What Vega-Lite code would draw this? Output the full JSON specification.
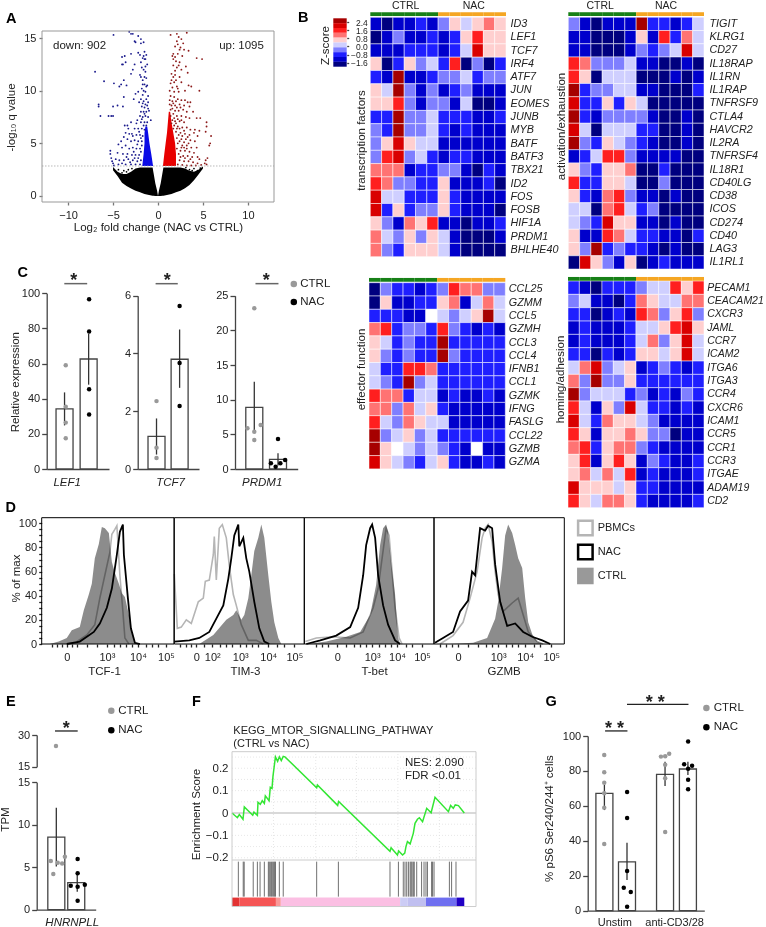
{"$schema":"https://vega.github.io/schema/vega-lite/v6.json","width":766,"height":927,"padding":0,"autosize":{"type":"none"},"background":"white","data":{"values":[{}]},
"config":{"font":"Liberation Sans","view":{"stroke":null},"axis":{"grid":false,"labelFontSize":11,"labelColor":"#222","titleFontSize":11.5,"titleFontWeight":"normal","titleColor":"#222","domainColor":"#444","tickColor":"#444","domainWidth":1.3,"tickWidth":1.3,"labelOverlap":false,"labelFlush":false,"titleBaseline":"middle","titleAlign":"center","titleAnchor":null},"text":{"fontSize":11.5,"color":"#222","align":"left","baseline":"middle"}},
"resolve":{"scale":{"x":"independent","y":"independent","color":"independent"},"axis":{"x":"independent","y":"independent"}},
"datasets":{
"h1":[{"g":"ID3","s":1,"z":-1.4},{"g":"ID3","s":2,"z":-1.8},{"g":"ID3","s":3,"z":-1.4},{"g":"ID3","s":4,"z":-1.4},{"g":"ID3","s":5,"z":-1},{"g":"ID3","s":6,"z":-1.4},{"g":"ID3","s":7,"z":-0.6},{"g":"ID3","s":8,"z":0.4},{"g":"ID3","s":9,"z":-0.2},{"g":"ID3","s":10,"z":0.4},{"g":"ID3","s":11,"z":1.2},{"g":"ID3","s":12,"z":0.4},
{"g":"LEF1","s":1,"z":-1.8},{"g":"LEF1","s":2,"z":-1.4},{"g":"LEF1","s":3,"z":-0.6},{"g":"LEF1","s":4,"z":-1.4},{"g":"LEF1","s":5,"z":-1.4},{"g":"LEF1","s":6,"z":-1},{"g":"LEF1","s":7,"z":-1.4},{"g":"LEF1","s":8,"z":-1},{"g":"LEF1","s":9,"z":0.4},{"g":"LEF1","s":10,"z":1.8},{"g":"LEF1","s":11,"z":0.4},{"g":"LEF1","s":12,"z":0.4},
{"g":"TCF7","s":1,"z":-1.4},{"g":"TCF7","s":2,"z":-1.4},{"g":"TCF7","s":3,"z":-1.4},{"g":"TCF7","s":4,"z":-1},{"g":"TCF7","s":5,"z":-1},{"g":"TCF7","s":6,"z":-1},{"g":"TCF7","s":7,"z":-1.4},{"g":"TCF7","s":8,"z":-1},{"g":"TCF7","s":9,"z":-0.2},{"g":"TCF7","s":10,"z":2.2},{"g":"TCF7","s":11,"z":0.4},{"g":"TCF7","s":12,"z":0.4},
{"g":"IRF4","s":1,"z":0.4},{"g":"IRF4","s":2,"z":-1.8},{"g":"IRF4","s":3,"z":-1},{"g":"IRF4","s":4,"z":0.4},{"g":"IRF4","s":5,"z":-0.6},{"g":"IRF4","s":6,"z":-0.2},{"g":"IRF4","s":7,"z":-1},{"g":"IRF4","s":8,"z":1.8},{"g":"IRF4","s":9,"z":-1.8},{"g":"IRF4","s":10,"z":-0.6},{"g":"IRF4","s":11,"z":-1.8},{"g":"IRF4","s":12,"z":-1},
{"g":"ATF7","s":1,"z":-1},{"g":"ATF7","s":2,"z":-1.4},{"g":"ATF7","s":3,"z":2.6},{"g":"ATF7","s":4,"z":-1.4},{"g":"ATF7","s":5,"z":-1.4},{"g":"ATF7","s":6,"z":-1},{"g":"ATF7","s":7,"z":-0.6},{"g":"ATF7","s":8,"z":-0.6},{"g":"ATF7","s":9,"z":-0.2},{"g":"ATF7","s":10,"z":-1},{"g":"ATF7","s":11,"z":-0.6},{"g":"ATF7","s":12,"z":-0.6},
{"g":"JUN","s":1,"z":0.4},{"g":"JUN","s":2,"z":-0.2},{"g":"JUN","s":3,"z":2.6},{"g":"JUN","s":4,"z":-0.6},{"g":"JUN","s":5,"z":-1.4},{"g":"JUN","s":6,"z":-0.6},{"g":"JUN","s":7,"z":-1.4},{"g":"JUN","s":8,"z":-1},{"g":"JUN","s":9,"z":-0.6},{"g":"JUN","s":10,"z":-1.4},{"g":"JUN","s":11,"z":-1.4},{"g":"JUN","s":12,"z":-1.4},
{"g":"EOMES","s":1,"z":0.4},{"g":"EOMES","s":2,"z":0.4},{"g":"EOMES","s":3,"z":1.8},{"g":"EOMES","s":4,"z":-0.6},{"g":"EOMES","s":5,"z":-1.4},{"g":"EOMES","s":6,"z":-0.6},{"g":"EOMES","s":7,"z":-0.6},{"g":"EOMES","s":8,"z":-1.4},{"g":"EOMES","s":9,"z":-0.2},{"g":"EOMES","s":10,"z":-1.8},{"g":"EOMES","s":11,"z":-1.8},{"g":"EOMES","s":12,"z":-1.4},
{"g":"JUNB","s":1,"z":-1},{"g":"JUNB","s":2,"z":-1},{"g":"JUNB","s":3,"z":2.6},{"g":"JUNB","s":4,"z":-0.6},{"g":"JUNB","s":5,"z":-0.6},{"g":"JUNB","s":6,"z":-0.2},{"g":"JUNB","s":7,"z":-1},{"g":"JUNB","s":8,"z":-1},{"g":"JUNB","s":9,"z":-1},{"g":"JUNB","s":10,"z":-1.4},{"g":"JUNB","s":11,"z":-1.4},{"g":"JUNB","s":12,"z":-1},
{"g":"MYB","s":1,"z":-0.6},{"g":"MYB","s":2,"z":-1},{"g":"MYB","s":3,"z":2.6},{"g":"MYB","s":4,"z":-0.6},{"g":"MYB","s":5,"z":-0.6},{"g":"MYB","s":6,"z":-0.2},{"g":"MYB","s":7,"z":-1},{"g":"MYB","s":8,"z":-1.4},{"g":"MYB","s":9,"z":-1},{"g":"MYB","s":10,"z":-1.4},{"g":"MYB","s":11,"z":-1.4},{"g":"MYB","s":12,"z":-1.4},
{"g":"BATF","s":1,"z":-0.6},{"g":"BATF","s":2,"z":0.4},{"g":"BATF","s":3,"z":2.2},{"g":"BATF","s":4,"z":0.4},{"g":"BATF","s":5,"z":-0.2},{"g":"BATF","s":6,"z":-0.2},{"g":"BATF","s":7,"z":-1.4},{"g":"BATF","s":8,"z":-1.4},{"g":"BATF","s":9,"z":-1.4},{"g":"BATF","s":10,"z":-1.4},{"g":"BATF","s":11,"z":-1.4},{"g":"BATF","s":12,"z":-1.4},
{"g":"BATF3","s":1,"z":-0.6},{"g":"BATF3","s":2,"z":1.8},{"g":"BATF3","s":3,"z":2.2},{"g":"BATF3","s":4,"z":-0.6},{"g":"BATF3","s":5,"z":-0.2},{"g":"BATF3","s":6,"z":-1},{"g":"BATF3","s":7,"z":-1.4},{"g":"BATF3","s":8,"z":-1},{"g":"BATF3","s":9,"z":-1},{"g":"BATF3","s":10,"z":-1.4},{"g":"BATF3","s":11,"z":-1.4},{"g":"BATF3","s":12,"z":-1.4},
{"g":"TBX21","s":1,"z":1.2},{"g":"TBX21","s":2,"z":1.2},{"g":"TBX21","s":3,"z":1.2},{"g":"TBX21","s":4,"z":-1.4},{"g":"TBX21","s":5,"z":-1},{"g":"TBX21","s":6,"z":-1},{"g":"TBX21","s":7,"z":-0.6},{"g":"TBX21","s":8,"z":-0.6},{"g":"TBX21","s":9,"z":-1.4},{"g":"TBX21","s":10,"z":-1.8},{"g":"TBX21","s":11,"z":-1},{"g":"TBX21","s":12,"z":-1.4},
{"g":"ID2","s":1,"z":1.8},{"g":"ID2","s":2,"z":1.2},{"g":"ID2","s":3,"z":-0.6},{"g":"ID2","s":4,"z":-0.6},{"g":"ID2","s":5,"z":-1},{"g":"ID2","s":6,"z":-1},{"g":"ID2","s":7,"z":0.4},{"g":"ID2","s":8,"z":-1.4},{"g":"ID2","s":9,"z":-1.4},{"g":"ID2","s":10,"z":-1.4},{"g":"ID2","s":11,"z":-1},{"g":"ID2","s":12,"z":-1.8},
{"g":"FOS","s":1,"z":2.2},{"g":"FOS","s":2,"z":-0.2},{"g":"FOS","s":3,"z":-0.2},{"g":"FOS","s":4,"z":-1},{"g":"FOS","s":5,"z":-1},{"g":"FOS","s":6,"z":-1},{"g":"FOS","s":7,"z":0.4},{"g":"FOS","s":8,"z":-1},{"g":"FOS","s":9,"z":-1.4},{"g":"FOS","s":10,"z":-1.4},{"g":"FOS","s":11,"z":-1.4},{"g":"FOS","s":12,"z":-1.4},
{"g":"FOSB","s":1,"z":2.2},{"g":"FOSB","s":2,"z":-1},{"g":"FOSB","s":3,"z":0.4},{"g":"FOSB","s":4,"z":-1},{"g":"FOSB","s":5,"z":-0.6},{"g":"FOSB","s":6,"z":-0.6},{"g":"FOSB","s":7,"z":0.4},{"g":"FOSB","s":8,"z":-1},{"g":"FOSB","s":9,"z":-1.4},{"g":"FOSB","s":10,"z":-1.4},{"g":"FOSB","s":11,"z":-1.4},{"g":"FOSB","s":12,"z":-1.8},
{"g":"HIF1A","s":1,"z":0.4},{"g":"HIF1A","s":2,"z":-0.6},{"g":"HIF1A","s":3,"z":-1.4},{"g":"HIF1A","s":4,"z":1.2},{"g":"HIF1A","s":5,"z":0.4},{"g":"HIF1A","s":6,"z":1.8},{"g":"HIF1A","s":7,"z":-1.4},{"g":"HIF1A","s":8,"z":-1.4},{"g":"HIF1A","s":9,"z":-1.8},{"g":"HIF1A","s":10,"z":-1.4},{"g":"HIF1A","s":11,"z":-1.4},{"g":"HIF1A","s":12,"z":-1},
{"g":"PRDM1","s":1,"z":1.2},{"g":"PRDM1","s":2,"z":-0.2},{"g":"PRDM1","s":3,"z":-0.6},{"g":"PRDM1","s":4,"z":0.4},{"g":"PRDM1","s":5,"z":-0.6},{"g":"PRDM1","s":6,"z":0.4},{"g":"PRDM1","s":7,"z":-0.2},{"g":"PRDM1","s":8,"z":-1.4},{"g":"PRDM1","s":9,"z":-1.8},{"g":"PRDM1","s":10,"z":-1.8},{"g":"PRDM1","s":11,"z":-1.8},{"g":"PRDM1","s":12,"z":-1.4},
{"g":"BHLHE40","s":1,"z":1.2},{"g":"BHLHE40","s":2,"z":-0.6},{"g":"BHLHE40","s":3,"z":-1},{"g":"BHLHE40","s":4,"z":0.4},{"g":"BHLHE40","s":5,"z":0.4},{"g":"BHLHE40","s":6,"z":0.4},{"g":"BHLHE40","s":7,"z":-0.2},{"g":"BHLHE40","s":8,"z":-1.4},{"g":"BHLHE40","s":9,"z":-1.8},{"g":"BHLHE40","s":10,"z":-1.8},{"g":"BHLHE40","s":11,"z":-1.8},{"g":"BHLHE40","s":12,"z":-1.8}],
"h2":[{"g":"TIGIT","s":1,"z":-0.6},{"g":"TIGIT","s":2,"z":-1.4},{"g":"TIGIT","s":3,"z":-1.8},{"g":"TIGIT","s":4,"z":-1.4},{"g":"TIGIT","s":5,"z":-1.4},{"g":"TIGIT","s":6,"z":-1.4},{"g":"TIGIT","s":7,"z":2.6},{"g":"TIGIT","s":8,"z":-1},{"g":"TIGIT","s":9,"z":-1},{"g":"TIGIT","s":10,"z":-1.4},{"g":"TIGIT","s":11,"z":-1},{"g":"TIGIT","s":12,"z":-0.2},
{"g":"KLRG1","s":1,"z":-1.4},{"g":"KLRG1","s":2,"z":-1.4},{"g":"KLRG1","s":3,"z":-1.8},{"g":"KLRG1","s":4,"z":-1.8},{"g":"KLRG1","s":5,"z":-1.8},{"g":"KLRG1","s":6,"z":-1.4},{"g":"KLRG1","s":7,"z":0.4},{"g":"KLRG1","s":8,"z":-1.4},{"g":"KLRG1","s":9,"z":1.8},{"g":"KLRG1","s":10,"z":-1},{"g":"KLRG1","s":11,"z":1.2},{"g":"KLRG1","s":12,"z":-0.2},
{"g":"CD27","s":1,"z":-1.4},{"g":"CD27","s":2,"z":-1.4},{"g":"CD27","s":3,"z":-1.8},{"g":"CD27","s":4,"z":-1.8},{"g":"CD27","s":5,"z":-1.8},{"g":"CD27","s":6,"z":-1.4},{"g":"CD27","s":7,"z":-0.6},{"g":"CD27","s":8,"z":-1},{"g":"CD27","s":9,"z":-0.6},{"g":"CD27","s":10,"z":-0.2},{"g":"CD27","s":11,"z":2.2},{"g":"CD27","s":12,"z":-0.2},
{"g":"IL18RAP","s":1,"z":1.8},{"g":"IL18RAP","s":2,"z":1.2},{"g":"IL18RAP","s":3,"z":-0.6},{"g":"IL18RAP","s":4,"z":-0.6},{"g":"IL18RAP","s":5,"z":-0.6},{"g":"IL18RAP","s":6,"z":-0.2},{"g":"IL18RAP","s":7,"z":-1.4},{"g":"IL18RAP","s":8,"z":-1.4},{"g":"IL18RAP","s":9,"z":-1.8},{"g":"IL18RAP","s":10,"z":-1.8},{"g":"IL18RAP","s":11,"z":-1.4},{"g":"IL18RAP","s":12,"z":-1.8},
{"g":"IL1RN","s":1,"z":1.8},{"g":"IL1RN","s":2,"z":0.4},{"g":"IL1RN","s":3,"z":-1.8},{"g":"IL1RN","s":4,"z":-0.2},{"g":"IL1RN","s":5,"z":-0.2},{"g":"IL1RN","s":6,"z":-0.2},{"g":"IL1RN","s":7,"z":-1.8},{"g":"IL1RN","s":8,"z":-1.8},{"g":"IL1RN","s":9,"z":-1.8},{"g":"IL1RN","s":10,"z":-1.4},{"g":"IL1RN","s":11,"z":-1.8},{"g":"IL1RN","s":12,"z":-1.4},
{"g":"IL1RAP","s":1,"z":2.6},{"g":"IL1RAP","s":2,"z":-1},{"g":"IL1RAP","s":3,"z":-0.6},{"g":"IL1RAP","s":4,"z":-0.6},{"g":"IL1RAP","s":5,"z":-0.2},{"g":"IL1RAP","s":6,"z":-0.2},{"g":"IL1RAP","s":7,"z":-1.4},{"g":"IL1RAP","s":8,"z":-1.4},{"g":"IL1RAP","s":9,"z":-1.8},{"g":"IL1RAP","s":10,"z":-1.8},{"g":"IL1RAP","s":11,"z":-1.8},{"g":"IL1RAP","s":12,"z":-1},
{"g":"TNFRSF9","s":1,"z":2.2},{"g":"TNFRSF9","s":2,"z":-1},{"g":"TNFRSF9","s":3,"z":-1},{"g":"TNFRSF9","s":4,"z":0.4},{"g":"TNFRSF9","s":5,"z":-1},{"g":"TNFRSF9","s":6,"z":0.4},{"g":"TNFRSF9","s":7,"z":-0.2},{"g":"TNFRSF9","s":8,"z":-1.8},{"g":"TNFRSF9","s":9,"z":-1.8},{"g":"TNFRSF9","s":10,"z":-1.8},{"g":"TNFRSF9","s":11,"z":-1.8},{"g":"TNFRSF9","s":12,"z":-1.8},
{"g":"CTLA4","s":1,"z":2.6},{"g":"CTLA4","s":2,"z":-1},{"g":"CTLA4","s":3,"z":-1.4},{"g":"CTLA4","s":4,"z":-0.6},{"g":"CTLA4","s":5,"z":-0.6},{"g":"CTLA4","s":6,"z":-0.6},{"g":"CTLA4","s":7,"z":-0.6},{"g":"CTLA4","s":8,"z":-1.4},{"g":"CTLA4","s":9,"z":-1.8},{"g":"CTLA4","s":10,"z":-1.8},{"g":"CTLA4","s":11,"z":-1.4},{"g":"CTLA4","s":12,"z":-1.8},
{"g":"HAVCR2","s":1,"z":2.2},{"g":"HAVCR2","s":2,"z":-0.2},{"g":"HAVCR2","s":3,"z":-1.8},{"g":"HAVCR2","s":4,"z":-0.2},{"g":"HAVCR2","s":5,"z":-0.2},{"g":"HAVCR2","s":6,"z":-0.2},{"g":"HAVCR2","s":7,"z":-1},{"g":"HAVCR2","s":8,"z":-1},{"g":"HAVCR2","s":9,"z":-1.8},{"g":"HAVCR2","s":10,"z":-1.8},{"g":"HAVCR2","s":11,"z":-1.4},{"g":"HAVCR2","s":12,"z":-1.8},
{"g":"IL2RA","s":1,"z":2.6},{"g":"IL2RA","s":2,"z":-0.6},{"g":"IL2RA","s":3,"z":-1},{"g":"IL2RA","s":4,"z":0.4},{"g":"IL2RA","s":5,"z":-0.2},{"g":"IL2RA","s":6,"z":-0.6},{"g":"IL2RA","s":7,"z":-1},{"g":"IL2RA","s":8,"z":-1.4},{"g":"IL2RA","s":9,"z":-1.8},{"g":"IL2RA","s":10,"z":-1.8},{"g":"IL2RA","s":11,"z":-1.4},{"g":"IL2RA","s":12,"z":-1.8},
{"g":"TNFRSF4","s":1,"z":-1.4},{"g":"TNFRSF4","s":2,"z":-1},{"g":"TNFRSF4","s":3,"z":-0.2},{"g":"TNFRSF4","s":4,"z":1.8},{"g":"TNFRSF4","s":5,"z":1.8},{"g":"TNFRSF4","s":6,"z":-0.6},{"g":"TNFRSF4","s":7,"z":-1.4},{"g":"TNFRSF4","s":8,"z":-1.4},{"g":"TNFRSF4","s":9,"z":-1.4},{"g":"TNFRSF4","s":10,"z":-1.4},{"g":"TNFRSF4","s":11,"z":-1.8},{"g":"TNFRSF4","s":12,"z":-1.8},
{"g":"IL18R1","s":1,"z":0.4},{"g":"IL18R1","s":2,"z":-0.6},{"g":"IL18R1","s":3,"z":-1},{"g":"IL18R1","s":4,"z":0.4},{"g":"IL18R1","s":5,"z":0.4},{"g":"IL18R1","s":6,"z":1.2},{"g":"IL18R1","s":7,"z":-1.8},{"g":"IL18R1","s":8,"z":-1.8},{"g":"IL18R1","s":9,"z":-1},{"g":"IL18R1","s":10,"z":-1.8},{"g":"IL18R1","s":11,"z":-1.8},{"g":"IL18R1","s":12,"z":-1.8},
{"g":"CD40LG","s":1,"z":1.8},{"g":"CD40LG","s":2,"z":-1},{"g":"CD40LG","s":3,"z":-1},{"g":"CD40LG","s":4,"z":0.4},{"g":"CD40LG","s":5,"z":0.4},{"g":"CD40LG","s":6,"z":-0.2},{"g":"CD40LG","s":7,"z":-1.8},{"g":"CD40LG","s":8,"z":-1.8},{"g":"CD40LG","s":9,"z":-0.6},{"g":"CD40LG","s":10,"z":-1.8},{"g":"CD40LG","s":11,"z":-1.8},{"g":"CD40LG","s":12,"z":-1.8},
{"g":"CD38","s":1,"z":0.4},{"g":"CD38","s":2,"z":-1},{"g":"CD38","s":3,"z":-1.4},{"g":"CD38","s":4,"z":1.2},{"g":"CD38","s":5,"z":1.8},{"g":"CD38","s":6,"z":-0.6},{"g":"CD38","s":7,"z":-1.4},{"g":"CD38","s":8,"z":-1.4},{"g":"CD38","s":9,"z":-1.8},{"g":"CD38","s":10,"z":-1.4},{"g":"CD38","s":11,"z":-1.8},{"g":"CD38","s":12,"z":-1.8},
{"g":"ICOS","s":1,"z":-0.2},{"g":"ICOS","s":2,"z":-0.2},{"g":"ICOS","s":3,"z":-1.8},{"g":"ICOS","s":4,"z":1.2},{"g":"ICOS","s":5,"z":1.8},{"g":"ICOS","s":6,"z":-0.2},{"g":"ICOS","s":7,"z":-1},{"g":"ICOS","s":8,"z":-0.6},{"g":"ICOS","s":9,"z":-1.8},{"g":"ICOS","s":10,"z":-1.8},{"g":"ICOS","s":11,"z":-1.8},{"g":"ICOS","s":12,"z":-1.8},
{"g":"CD274","s":1,"z":-0.2},{"g":"CD274","s":2,"z":-0.6},{"g":"CD274","s":3,"z":-1},{"g":"CD274","s":4,"z":2.2},{"g":"CD274","s":5,"z":0.4},{"g":"CD274","s":6,"z":0.4},{"g":"CD274","s":7,"z":-1.4},{"g":"CD274","s":8,"z":-1.4},{"g":"CD274","s":9,"z":-1.8},{"g":"CD274","s":10,"z":-1.4},{"g":"CD274","s":11,"z":-1.8},{"g":"CD274","s":12,"z":-1.8},
{"g":"CD40","s":1,"z":0.4},{"g":"CD40","s":2,"z":-1.4},{"g":"CD40","s":3,"z":-1.4},{"g":"CD40","s":4,"z":1.8},{"g":"CD40","s":5,"z":1.2},{"g":"CD40","s":6,"z":-0.2},{"g":"CD40","s":7,"z":-1},{"g":"CD40","s":8,"z":-1},{"g":"CD40","s":9,"z":-1.4},{"g":"CD40","s":10,"z":-1.4},{"g":"CD40","s":11,"z":-1.8},{"g":"CD40","s":12,"z":-1},
{"g":"LAG3","s":1,"z":0.4},{"g":"LAG3","s":2,"z":-0.6},{"g":"LAG3","s":3,"z":2.6},{"g":"LAG3","s":4,"z":-1},{"g":"LAG3","s":5,"z":-0.6},{"g":"LAG3","s":6,"z":-1},{"g":"LAG3","s":7,"z":-1},{"g":"LAG3","s":8,"z":-1.4},{"g":"LAG3","s":9,"z":-1.8},{"g":"LAG3","s":10,"z":-1.4},{"g":"LAG3","s":11,"z":-1.8},{"g":"LAG3","s":12,"z":-1.8},
{"g":"IL1RL1","s":1,"z":-1.8},{"g":"IL1RL1","s":2,"z":2.2},{"g":"IL1RL1","s":3,"z":0.4},{"g":"IL1RL1","s":4,"z":-0.6},{"g":"IL1RL1","s":5,"z":-1.4},{"g":"IL1RL1","s":6,"z":0.4},{"g":"IL1RL1","s":7,"z":-1.8},{"g":"IL1RL1","s":8,"z":-1.4},{"g":"IL1RL1","s":9,"z":-1},{"g":"IL1RL1","s":10,"z":-1.4},{"g":"IL1RL1","s":11,"z":-1.4},{"g":"IL1RL1","s":12,"z":-1.4}],
"h3":[{"g":"CCL25","s":1,"z":-1.8},{"g":"CCL25","s":2,"z":-0.6},{"g":"CCL25","s":3,"z":-1},{"g":"CCL25","s":4,"z":-1},{"g":"CCL25","s":5,"z":-1.4},{"g":"CCL25","s":6,"z":-1},{"g":"CCL25","s":7,"z":-0.6},{"g":"CCL25","s":8,"z":1.8},{"g":"CCL25","s":9,"z":1.2},{"g":"CCL25","s":10,"z":1.2},{"g":"CCL25","s":11,"z":-0.6},{"g":"CCL25","s":12,"z":-0.6},
{"g":"GZMM","s":1,"z":-1.8},{"g":"GZMM","s":2,"z":0.4},{"g":"GZMM","s":3,"z":-1.4},{"g":"GZMM","s":4,"z":-1.4},{"g":"GZMM","s":5,"z":-1},{"g":"GZMM","s":6,"z":-1},{"g":"GZMM","s":7,"z":0.4},{"g":"GZMM","s":8,"z":1.2},{"g":"GZMM","s":9,"z":-1.4},{"g":"GZMM","s":10,"z":-0.2},{"g":"GZMM","s":11,"z":1.2},{"g":"GZMM","s":12,"z":-0.2},
{"g":"CCL5","s":1,"z":-1},{"g":"CCL5","s":2,"z":-1},{"g":"CCL5","s":3,"z":-1},{"g":"CCL5","s":4,"z":-1.4},{"g":"CCL5","s":5,"z":-1.4},{"g":"CCL5","s":6,"z":0},{"g":"CCL5","s":7,"z":-0.2},{"g":"CCL5","s":8,"z":-0.6},{"g":"CCL5","s":9,"z":-0.2},{"g":"CCL5","s":10,"z":0.4},{"g":"CCL5","s":11,"z":2.6},{"g":"CCL5","s":12,"z":-0.2},
{"g":"GZMH","s":1,"z":1.2},{"g":"GZMH","s":2,"z":1.8},{"g":"GZMH","s":3,"z":-1},{"g":"GZMH","s":4,"z":-0.6},{"g":"GZMH","s":5,"z":-0.6},{"g":"GZMH","s":6,"z":-1},{"g":"GZMH","s":7,"z":1.8},{"g":"GZMH","s":8,"z":-0.6},{"g":"GZMH","s":9,"z":-1},{"g":"GZMH","s":10,"z":-1.4},{"g":"GZMH","s":11,"z":-1},{"g":"GZMH","s":12,"z":-1.4},
{"g":"CCL3","s":1,"z":0.4},{"g":"CCL3","s":2,"z":-0.2},{"g":"CCL3","s":3,"z":-1},{"g":"CCL3","s":4,"z":-0.6},{"g":"CCL3","s":5,"z":-1},{"g":"CCL3","s":6,"z":-1},{"g":"CCL3","s":7,"z":2.6},{"g":"CCL3","s":8,"z":-1},{"g":"CCL3","s":9,"z":-1},{"g":"CCL3","s":10,"z":-1},{"g":"CCL3","s":11,"z":-1},{"g":"CCL3","s":12,"z":-1},
{"g":"CCL4","s":1,"z":0.4},{"g":"CCL4","s":2,"z":-0.6},{"g":"CCL4","s":3,"z":-1},{"g":"CCL4","s":4,"z":-0.6},{"g":"CCL4","s":5,"z":-1},{"g":"CCL4","s":6,"z":-1},{"g":"CCL4","s":7,"z":2.6},{"g":"CCL4","s":8,"z":-0.6},{"g":"CCL4","s":9,"z":-1},{"g":"CCL4","s":10,"z":-1},{"g":"CCL4","s":11,"z":-1},{"g":"CCL4","s":12,"z":-1},
{"g":"IFNB1","s":1,"z":-0.2},{"g":"IFNB1","s":2,"z":-1},{"g":"IFNB1","s":3,"z":-1},{"g":"IFNB1","s":4,"z":1.8},{"g":"IFNB1","s":5,"z":1.8},{"g":"IFNB1","s":6,"z":1.2},{"g":"IFNB1","s":7,"z":-1},{"g":"IFNB1","s":8,"z":-1},{"g":"IFNB1","s":9,"z":-1},{"g":"IFNB1","s":10,"z":-1},{"g":"IFNB1","s":11,"z":-1},{"g":"IFNB1","s":12,"z":-1},
{"g":"CCL1","s":1,"z":-0.2},{"g":"CCL1","s":2,"z":-0.6},{"g":"CCL1","s":3,"z":-1},{"g":"CCL1","s":4,"z":2.6},{"g":"CCL1","s":5,"z":-0.6},{"g":"CCL1","s":6,"z":-0.2},{"g":"CCL1","s":7,"z":-1},{"g":"CCL1","s":8,"z":-1},{"g":"CCL1","s":9,"z":-1},{"g":"CCL1","s":10,"z":-1},{"g":"CCL1","s":11,"z":-1},{"g":"CCL1","s":12,"z":-1},
{"g":"GZMK","s":1,"z":1.8},{"g":"GZMK","s":2,"z":1.2},{"g":"GZMK","s":3,"z":1.2},{"g":"GZMK","s":4,"z":-1},{"g":"GZMK","s":5,"z":-0.2},{"g":"GZMK","s":6,"z":-0.2},{"g":"GZMK","s":7,"z":-1.4},{"g":"GZMK","s":8,"z":-1},{"g":"GZMK","s":9,"z":-1.4},{"g":"GZMK","s":10,"z":-1.4},{"g":"GZMK","s":11,"z":-1},{"g":"GZMK","s":12,"z":-1.4},
{"g":"IFNG","s":1,"z":1.2},{"g":"IFNG","s":2,"z":1.2},{"g":"IFNG","s":3,"z":-0.6},{"g":"IFNG","s":4,"z":1.2},{"g":"IFNG","s":5,"z":-0.2},{"g":"IFNG","s":6,"z":0.4},{"g":"IFNG","s":7,"z":-1},{"g":"IFNG","s":8,"z":-1.4},{"g":"IFNG","s":9,"z":-1.4},{"g":"IFNG","s":10,"z":-1.4},{"g":"IFNG","s":11,"z":-1.4},{"g":"IFNG","s":12,"z":-1.4},
{"g":"FASLG","s":1,"z":1.8},{"g":"FASLG","s":2,"z":-0.2},{"g":"FASLG","s":3,"z":-0.6},{"g":"FASLG","s":4,"z":1.2},{"g":"FASLG","s":5,"z":0.4},{"g":"FASLG","s":6,"z":-0.2},{"g":"FASLG","s":7,"z":-0.2},{"g":"FASLG","s":8,"z":-1.4},{"g":"FASLG","s":9,"z":-1.4},{"g":"FASLG","s":10,"z":-1.4},{"g":"FASLG","s":11,"z":-1.4},{"g":"FASLG","s":12,"z":-1.4},
{"g":"CCL22","s":1,"z":2.6},{"g":"CCL22","s":2,"z":-0.6},{"g":"CCL22","s":3,"z":-0.2},{"g":"CCL22","s":4,"z":0.4},{"g":"CCL22","s":5,"z":-0.6},{"g":"CCL22","s":6,"z":-0.2},{"g":"CCL22","s":7,"z":-1},{"g":"CCL22","s":8,"z":-1},{"g":"CCL22","s":9,"z":-1},{"g":"CCL22","s":10,"z":-1},{"g":"CCL22","s":11,"z":-1},{"g":"CCL22","s":12,"z":-1},
{"g":"GZMB","s":1,"z":2.6},{"g":"GZMB","s":2,"z":0.4},{"g":"GZMB","s":3,"z":0},{"g":"GZMB","s":4,"z":-0.2},{"g":"GZMB","s":5,"z":-0.6},{"g":"GZMB","s":6,"z":-0.2},{"g":"GZMB","s":7,"z":-0.6},{"g":"GZMB","s":8,"z":-1},{"g":"GZMB","s":9,"z":-1.4},{"g":"GZMB","s":10,"z":0},{"g":"GZMB","s":11,"z":-1.4},{"g":"GZMB","s":12,"z":-1.4},
{"g":"GZMA","s":1,"z":2.2},{"g":"GZMA","s":2,"z":0.4},{"g":"GZMA","s":3,"z":-0.2},{"g":"GZMA","s":4,"z":-0.6},{"g":"GZMA","s":5,"z":-1},{"g":"GZMA","s":6,"z":-0.2},{"g":"GZMA","s":7,"z":0.4},{"g":"GZMA","s":8,"z":-1},{"g":"GZMA","s":9,"z":-1.4},{"g":"GZMA","s":10,"z":-1.4},{"g":"GZMA","s":11,"z":-1},{"g":"GZMA","s":12,"z":-1.4}],
"h4":[{"g":"PECAM1","s":1,"z":-1},{"g":"PECAM1","s":2,"z":-1.4},{"g":"PECAM1","s":3,"z":-1.8},{"g":"PECAM1","s":4,"z":-1},{"g":"PECAM1","s":5,"z":-1},{"g":"PECAM1","s":6,"z":-1},{"g":"PECAM1","s":7,"z":-0.6},{"g":"PECAM1","s":8,"z":-0.2},{"g":"PECAM1","s":9,"z":-0.2},{"g":"PECAM1","s":10,"z":1.8},{"g":"PECAM1","s":11,"z":0.4},{"g":"PECAM1","s":12,"z":1.8},
{"g":"CEACAM21","s":1,"z":-0.6},{"g":"CEACAM21","s":2,"z":-0.2},{"g":"CEACAM21","s":3,"z":-1.4},{"g":"CEACAM21","s":4,"z":-1.4},{"g":"CEACAM21","s":5,"z":-1.8},{"g":"CEACAM21","s":6,"z":-1},{"g":"CEACAM21","s":7,"z":1.2},{"g":"CEACAM21","s":8,"z":0.4},{"g":"CEACAM21","s":9,"z":-0.2},{"g":"CEACAM21","s":10,"z":-0.2},{"g":"CEACAM21","s":11,"z":1.2},{"g":"CEACAM21","s":12,"z":1.2},
{"g":"CXCR3","s":1,"z":-1},{"g":"CXCR3","s":2,"z":-1},{"g":"CXCR3","s":3,"z":-1.8},{"g":"CXCR3","s":4,"z":-1.4},{"g":"CXCR3","s":5,"z":-1},{"g":"CXCR3","s":6,"z":-1.4},{"g":"CXCR3","s":7,"z":1.8},{"g":"CXCR3","s":8,"z":1.2},{"g":"CXCR3","s":9,"z":-0.6},{"g":"CXCR3","s":10,"z":0.4},{"g":"CXCR3","s":11,"z":1.8},{"g":"CXCR3","s":12,"z":-0.6},
{"g":"JAML","s":1,"z":-1.4},{"g":"JAML","s":2,"z":-1},{"g":"JAML","s":3,"z":-1.4},{"g":"JAML","s":4,"z":-1.4},{"g":"JAML","s":5,"z":-1.4},{"g":"JAML","s":6,"z":-1},{"g":"JAML","s":7,"z":-0.2},{"g":"JAML","s":8,"z":-0.2},{"g":"JAML","s":9,"z":0.4},{"g":"JAML","s":10,"z":1.8},{"g":"JAML","s":11,"z":2.2},{"g":"JAML","s":12,"z":0.4},
{"g":"CCR7","s":1,"z":-1.4},{"g":"CCR7","s":2,"z":-1},{"g":"CCR7","s":3,"z":-1.4},{"g":"CCR7","s":4,"z":-1.4},{"g":"CCR7","s":5,"z":-1.4},{"g":"CCR7","s":6,"z":-1},{"g":"CCR7","s":7,"z":-0.2},{"g":"CCR7","s":8,"z":1.2},{"g":"CCR7","s":9,"z":-0.6},{"g":"CCR7","s":10,"z":0.4},{"g":"CCR7","s":11,"z":2.2},{"g":"CCR7","s":12,"z":-0.2},
{"g":"ICAM2","s":1,"z":-1},{"g":"ICAM2","s":2,"z":-1},{"g":"ICAM2","s":3,"z":-1.8},{"g":"ICAM2","s":4,"z":-1},{"g":"ICAM2","s":5,"z":-1.4},{"g":"ICAM2","s":6,"z":-1},{"g":"ICAM2","s":7,"z":0.4},{"g":"ICAM2","s":8,"z":0.4},{"g":"ICAM2","s":9,"z":-0.2},{"g":"ICAM2","s":10,"z":0.4},{"g":"ICAM2","s":11,"z":2.2},{"g":"ICAM2","s":12,"z":-0.2},
{"g":"ITGA6","s":1,"z":-0.2},{"g":"ITGA6","s":2,"z":1.2},{"g":"ITGA6","s":3,"z":2.2},{"g":"ITGA6","s":4,"z":-0.6},{"g":"ITGA6","s":5,"z":-0.2},{"g":"ITGA6","s":6,"z":0.4},{"g":"ITGA6","s":7,"z":-1.4},{"g":"ITGA6","s":8,"z":-1},{"g":"ITGA6","s":9,"z":-0.6},{"g":"ITGA6","s":10,"z":-1},{"g":"ITGA6","s":11,"z":-1.4},{"g":"ITGA6","s":12,"z":-1},
{"g":"ITGA3","s":1,"z":1.2},{"g":"ITGA3","s":2,"z":-0.6},{"g":"ITGA3","s":3,"z":2.6},{"g":"ITGA3","s":4,"z":-0.6},{"g":"ITGA3","s":5,"z":-0.6},{"g":"ITGA3","s":6,"z":0.4},{"g":"ITGA3","s":7,"z":-1},{"g":"ITGA3","s":8,"z":-1},{"g":"ITGA3","s":9,"z":-1},{"g":"ITGA3","s":10,"z":-1},{"g":"ITGA3","s":11,"z":-1},{"g":"ITGA3","s":12,"z":-1},
{"g":"CCR4","s":1,"z":2.6},{"g":"CCR4","s":2,"z":-0.6},{"g":"CCR4","s":3,"z":-0.2},{"g":"CCR4","s":4,"z":-0.2},{"g":"CCR4","s":5,"z":-0.2},{"g":"CCR4","s":6,"z":-1},{"g":"CCR4","s":7,"z":-0.6},{"g":"CCR4","s":8,"z":-1.4},{"g":"CCR4","s":9,"z":-1},{"g":"CCR4","s":10,"z":-1.4},{"g":"CCR4","s":11,"z":-0.6},{"g":"CCR4","s":12,"z":-1},
{"g":"CXCR6","s":1,"z":1.8},{"g":"CXCR6","s":2,"z":-0.2},{"g":"CXCR6","s":3,"z":-1.4},{"g":"CXCR6","s":4,"z":0.4},{"g":"CXCR6","s":5,"z":-0.6},{"g":"CXCR6","s":6,"z":2.2},{"g":"CXCR6","s":7,"z":-0.2},{"g":"CXCR6","s":8,"z":-1},{"g":"CXCR6","s":9,"z":-1},{"g":"CXCR6","s":10,"z":-1.4},{"g":"CXCR6","s":11,"z":-1},{"g":"CXCR6","s":12,"z":-1.4},
{"g":"ICAM1","s":1,"z":2.2},{"g":"ICAM1","s":2,"z":-0.2},{"g":"ICAM1","s":3,"z":-1},{"g":"ICAM1","s":4,"z":1.2},{"g":"ICAM1","s":5,"z":0.4},{"g":"ICAM1","s":6,"z":0.4},{"g":"ICAM1","s":7,"z":-0.2},{"g":"ICAM1","s":8,"z":-0.6},{"g":"ICAM1","s":9,"z":-1.4},{"g":"ICAM1","s":10,"z":-1.4},{"g":"ICAM1","s":11,"z":-1.4},{"g":"ICAM1","s":12,"z":-1.4},
{"g":"CCR5","s":1,"z":1.8},{"g":"CCR5","s":2,"z":0.4},{"g":"CCR5","s":3,"z":-1.4},{"g":"CCR5","s":4,"z":0.4},{"g":"CCR5","s":5,"z":0.4},{"g":"CCR5","s":6,"z":1.2},{"g":"CCR5","s":7,"z":0.4},{"g":"CCR5","s":8,"z":-0.6},{"g":"CCR5","s":9,"z":-0.6},{"g":"CCR5","s":10,"z":-1.8},{"g":"CCR5","s":11,"z":-1.4},{"g":"CCR5","s":12,"z":-1.4},
{"g":"CCR1","s":1,"z":1.2},{"g":"CCR1","s":2,"z":1.8},{"g":"CCR1","s":3,"z":-1},{"g":"CCR1","s":4,"z":0.4},{"g":"CCR1","s":5,"z":1.2},{"g":"CCR1","s":6,"z":1.2},{"g":"CCR1","s":7,"z":-0.6},{"g":"CCR1","s":8,"z":-1},{"g":"CCR1","s":9,"z":-1.4},{"g":"CCR1","s":10,"z":-1.4},{"g":"CCR1","s":11,"z":-1.4},{"g":"CCR1","s":12,"z":-1.4},
{"g":"CCR3","s":1,"z":0.4},{"g":"CCR3","s":2,"z":1.8},{"g":"CCR3","s":3,"z":-1.4},{"g":"CCR3","s":4,"z":0.4},{"g":"CCR3","s":5,"z":1.8},{"g":"CCR3","s":6,"z":0.4},{"g":"CCR3","s":7,"z":-1.4},{"g":"CCR3","s":8,"z":-0.6},{"g":"CCR3","s":9,"z":-1},{"g":"CCR3","s":10,"z":-1.4},{"g":"CCR3","s":11,"z":-1.4},{"g":"CCR3","s":12,"z":-1},
{"g":"ITGAE","s":1,"z":0.4},{"g":"ITGAE","s":2,"z":1.2},{"g":"ITGAE","s":3,"z":-0.2},{"g":"ITGAE","s":4,"z":1.2},{"g":"ITGAE","s":5,"z":-0.2},{"g":"ITGAE","s":6,"z":1.8},{"g":"ITGAE","s":7,"z":-1.4},{"g":"ITGAE","s":8,"z":-1},{"g":"ITGAE","s":9,"z":-1.4},{"g":"ITGAE","s":10,"z":-1.4},{"g":"ITGAE","s":11,"z":-1.4},{"g":"ITGAE","s":12,"z":-1},
{"g":"ADAM19","s":1,"z":2.2},{"g":"ADAM19","s":2,"z":0.4},{"g":"ADAM19","s":3,"z":0.4},{"g":"ADAM19","s":4,"z":0.4},{"g":"ADAM19","s":5,"z":-0.2},{"g":"ADAM19","s":6,"z":0.4},{"g":"ADAM19","s":7,"z":-1},{"g":"ADAM19","s":8,"z":-1},{"g":"ADAM19","s":9,"z":-1.4},{"g":"ADAM19","s":10,"z":-1.4},{"g":"ADAM19","s":11,"z":-1.4},{"g":"ADAM19","s":12,"z":-1.4},
{"g":"CD2","s":1,"z":1.8},{"g":"CD2","s":2,"z":0.4},{"g":"CD2","s":3,"z":-0.2},{"g":"CD2","s":4,"z":1.2},{"g":"CD2","s":5,"z":1.2},{"g":"CD2","s":6,"z":0.4},{"g":"CD2","s":7,"z":-1},{"g":"CD2","s":8,"z":-1.4},{"g":"CD2","s":9,"z":-1.4},{"g":"CD2","s":10,"z":-1.4},{"g":"CD2","s":11,"z":-1.4},{"g":"CD2","s":12,"z":-1}],
"ctrlS":[{"s":1},{"s":2},{"s":3},{"s":4},{"s":5},{"s":6}],"nacS":[{"s":7},{"s":8},{"s":9},{"s":10},{"s":11},{"s":12}]},
"layer":[
{"layer":[
{"data":{"values":[{"x":-5,"lo":2.45,"hi":2.75},{"x":-4.5,"lo":1.9,"hi":2.3},{"x":-4,"lo":1.25,"hi":2.1},{"x":-3.5,"lo":0.95,"hi":2.1},{"x":-3,"lo":0.72,"hi":2.3},{"x":-2.5,"lo":0.5,"hi":2.6},{"x":-2,"lo":0.35,"hi":2.7},{"x":-1.5,"lo":0.2,"hi":2.7},{"x":-1,"lo":0.1,"hi":2.7},{"x":-0.6,"lo":0.03,"hi":2.7},{"x":-0.5,"lo":0.02,"hi":2.2},{"x":-0.3,"lo":0,"hi":1.2},{"x":-0.1,"lo":0,"hi":0.5},{"x":0,"lo":0,"hi":0}]},"mark":{"type":"area","color":"#000"},"encoding":{"x":{"field":"x","type":"quantitative","scale":{"domain":[-12.9,12.9],"range":[42,274],"nice":false,"zero":false},"axis":{"orient":"bottom","offset":-725,"values":[-10,-5,0,5,10],"format":"d","domain":false,"tickSize":3,"tickColor":"#777","labelPadding":4,"title":"Log₂ fold change (NAC vs CTRL)","titleY":25}},"y":{"field":"lo","type":"quantitative","scale":{"domain":[-0.57,15.67],"range":[202,31],"nice":false,"zero":false},"axis":{"orient":"left","offset":-42,"values":[0,5,10,15],"format":"d","domain":false,"tickSize":3,"tickColor":"#777","labelPadding":3,"title":"-log₁₀ q value","titleX":-31,"titleY":117}},"y2":{"field":"hi"}}},
{"data":{"values":[{"x":0,"lo":0,"hi":0},{"x":0.1,"lo":0,"hi":0.5},{"x":0.3,"lo":0,"hi":1.2},{"x":0.5,"lo":0.02,"hi":2.2},{"x":0.6,"lo":0.03,"hi":2.7},{"x":1,"lo":0.1,"hi":2.7},{"x":1.5,"lo":0.2,"hi":2.7},{"x":2,"lo":0.35,"hi":2.7},{"x":2.5,"lo":0.5,"hi":2.7},{"x":3,"lo":0.73,"hi":2.6},{"x":3.5,"lo":1.05,"hi":2.4},{"x":4,"lo":1.5,"hi":2.3},{"x":4.5,"lo":2.05,"hi":2.5},{"x":5,"lo":2.6,"hi":2.8}]},"mark":{"type":"area","color":"#000"},"encoding":{"x":{"field":"x","type":"quantitative"},"y":{"field":"lo","type":"quantitative"},"y2":{"field":"hi"}}},
{"data":{"values":[{"y":2.85,"a":-1.75,"b":-0.55},{"y":4,"a":-1.6,"b":-0.75},{"y":5,"a":-1.5,"b":-0.95},{"y":6,"a":-1.5,"b":-1.1},{"y":6.6,"a":-1.4,"b":-1.2}]},"mark":{"type":"area","orient":"horizontal","color":"#0a0ae6"},"encoding":{"y":{"field":"y","type":"quantitative"},"x":{"field":"a","type":"quantitative"},"x2":{"field":"b"}}},
{"data":{"values":[{"y":2.85,"a":0.55,"b":2},{"y":4,"a":0.7,"b":2},{"y":5,"a":0.85,"b":1.9},{"y":6,"a":1,"b":1.7},{"y":7,"a":1.1,"b":1.5},{"y":8,"a":1.2,"b":1.35}]},"mark":{"type":"area","orient":"horizontal","color":"#e80000"},"encoding":{"y":{"field":"y","type":"quantitative"},"x":{"field":"a","type":"quantitative"},"x2":{"field":"b"}}},
{"data":{"values":[{"x":-4.4,"y":2.5},{"x":-3.8,"y":2.4},{"x":-3.3,"y":2.5},{"x":-2.9,"y":2.6},{"x":-4,"y":2.2},{"x":-3.5,"y":2.3},{"x":4,"y":2.6},{"x":3.5,"y":2.5},{"x":3.1,"y":2.7},{"x":4.4,"y":2.4},{"x":3.8,"y":2.4},{"x":4.7,"y":2.65}]},"mark":{"type":"point","filled":true,"size":3,"color":"#000","opacity":1},"encoding":{"x":{"field":"x","type":"quantitative"},"y":{"field":"y","type":"quantitative"}}},
{"data":{"values":[{"x":-4.95,"y":15.3},{"x":-7,"y":11.8},{"x":-6,"y":10.9},{"x":-6.6,"y":8.7},{"x":-6.6,"y":8.5},{"x":-6.4,"y":7.6},{"x":-5.5,"y":7.6},{"x":-5.2,"y":7.6},{"x":-5,"y":7.6},{"x":-5,"y":8.5},{"x":-4.5,"y":8.6},{"x":-3.9,"y":8.5},{"x":-3.8,"y":9.4},{"x":-4.3,"y":10.4},{"x":-4.1,"y":10.6},{"x":-4.9,"y":10.7},{"x":-3.8,"y":11},{"x":-3.5,"y":10.5},{"x":-4,"y":12.5},{"x":-4,"y":13.2},{"x":-3.7,"y":13.3},{"x":-3.6,"y":12.7},{"x":-3.9,"y":12.5},{"x":-3,"y":13.5},{"x":-3,"y":11.6},{"x":-2.8,"y":12},{"x":-2.6,"y":12.5},{"x":-2.2,"y":13.6},{"x":-2.5,"y":14.6},{"x":-2.6,"y":14.7},{"x":-3,"y":15.4},{"x":-3.2,"y":15.6},{"x":-2.8,"y":15.4},{"x":-2.2,"y":15.2},{"x":-1.9,"y":14.9},{"x":-1.9,"y":14.5},{"x":-1.6,"y":14.6},{"x":-1.5,"y":13.7},{"x":-1.7,"y":13.1},{"x":-1.5,"y":13},{"x":-1.4,"y":13},{"x":-1.9,"y":12.7},{"x":-1.2,"y":12.5},{"x":-1.6,"y":12},{"x":-1.4,"y":11.8},{"x":-1.9,"y":11.3},{"x":-1.7,"y":11},{"x":-1.3,"y":11.2},{"x":-1.5,"y":10.6},{"x":-1.2,"y":10.5},{"x":-1.8,"y":10.2},{"x":-1.6,"y":10},{"x":-1.4,"y":9.9},{"x":-2.7,"y":9.2},{"x":-2.5,"y":9.7},{"x":-2.1,"y":8.9},{"x":-1.9,"y":9.2},{"x":-1.6,"y":9},{"x":-1.3,"y":9.2},{"x":-1.8,"y":8.5},{"x":-1.5,"y":8.4},{"x":-1.2,"y":8.6},{"x":-1.9,"y":8},{"x":-1.6,"y":8},{"x":-1.3,"y":8},{"x":-1,"y":8.1},{"x":-2,"y":7.6},{"x":-1.7,"y":7.5},{"x":-1.4,"y":7.6},{"x":-1.1,"y":7.5},{"x":-0.8,"y":7.2},{"x":-2.3,"y":7.2},{"x":-1.9,"y":7},{"x":-1.5,"y":7},{"x":-1.2,"y":7},{"x":-3,"y":7},{"x":-3.7,"y":6.7},{"x":-3.4,"y":6.7},{"x":-2.6,"y":6.4},{"x":-2.2,"y":6.4},{"x":-1.8,"y":6.4},{"x":-1.5,"y":6.3},{"x":-3.6,"y":6},{"x":-3.2,"y":5.9},{"x":-2.9,"y":5.9},{"x":-2.4,"y":5.8},{"x":-2,"y":5.8},{"x":-1.7,"y":5.7},{"x":-4.1,"y":5.2},{"x":-3.8,"y":5.6},{"x":-3.4,"y":5.4},{"x":-3,"y":5.2},{"x":-2.6,"y":5.3},{"x":-2.2,"y":5.2},{"x":-1.8,"y":5.2},{"x":-4.4,"y":4.9},{"x":-4,"y":4.6},{"x":-3.6,"y":4.8},{"x":-3.2,"y":4.5},{"x":-2.8,"y":4.6},{"x":-2.4,"y":4.5},{"x":-2,"y":4.5},{"x":-5.3,"y":4.3},{"x":-5.3,"y":4},{"x":-4.5,"y":4.1},{"x":-3.9,"y":4},{"x":-3.4,"y":4},{"x":-2.9,"y":3.9},{"x":-2.5,"y":3.9},{"x":-2.1,"y":3.9},{"x":-5.2,"y":3.6},{"x":-5.1,"y":3.3},{"x":-4.7,"y":3.5},{"x":-4.3,"y":3.4},{"x":-3.8,"y":3.4},{"x":-3.3,"y":3.5},{"x":-2.8,"y":3.4},{"x":-2.3,"y":3.3},{"x":-1.9,"y":3.4},{"x":-5,"y":3.1},{"x":-4.9,"y":2.9},{"x":-4.4,"y":3},{"x":-3.6,"y":3},{"x":-3,"y":3},{"x":-2.5,"y":3},{"x":-2,"y":3},{"x":-1.1,"y":9.5},{"x":-1.7,"y":9.6},{"x":-2.2,"y":9.9},{"x":-1.3,"y":10.4},{"x":-1.7,"y":10.6},{"x":-2,"y":11.5},{"x":-1.5,"y":11.3},{"x":-1.8,"y":12.2},{"x":-1.4,"y":12.3},{"x":-1.3,"y":13.4},{"x":-1.6,"y":13.3},{"x":-2,"y":13.4},{"x":-1.1,"y":8.9},{"x":-1.4,"y":8.7},{"x":-1.7,"y":8.8},{"x":-1.1,"y":8.3},{"x":-1.5,"y":7.8},{"x":-1.8,"y":7.3},{"x":-1.3,"y":6.7},{"x":-1.6,"y":6.7},{"x":-2.1,"y":6.1},{"x":-1.9,"y":5.5},{"x":-2.3,"y":4.9},{"x":-2.7,"y":4.2},{"x":-2.2,"y":3.6},{"x":-1.8,"y":4.8},{"x":-1.9,"y":4.2},{"x":-2.6,"y":3.6},{"x":-3.1,"y":3.2},{"x":-3.5,"y":3.7},{"x":-4,"y":3.1},{"x":-2.8,"y":5.7},{"x":-3.3,"y":6.4},{"x":-2.4,"y":6.9}]},"mark":{"type":"point","filled":true,"size":3.5,"color":"#1a1a8c","opacity":1},"encoding":{"x":{"field":"x","type":"quantitative"},"y":{"field":"y","type":"quantitative"}}},
{"data":{"values":[{"x":3.2,"y":15.5},{"x":2.1,"y":15.4},{"x":1.4,"y":15.3},{"x":2.3,"y":15.1},{"x":2.6,"y":14.9},{"x":2.8,"y":14.5},{"x":2.2,"y":14.4},{"x":1.9,"y":14.2},{"x":2.5,"y":14.1},{"x":2.9,"y":13.9},{"x":3.4,"y":13.8},{"x":1.7,"y":13.5},{"x":1.6,"y":13.3},{"x":2.2,"y":13.5},{"x":2.7,"y":13.3},{"x":4.3,"y":13.1},{"x":4.9,"y":13},{"x":1.7,"y":13},{"x":2,"y":12.8},{"x":2.4,"y":12.7},{"x":1.7,"y":12.4},{"x":2.1,"y":12.2},{"x":2.6,"y":12},{"x":3.1,"y":12.3},{"x":3.3,"y":11.7},{"x":1.5,"y":11.6},{"x":1.9,"y":11.5},{"x":2.4,"y":11.3},{"x":2,"y":11},{"x":1.5,"y":11},{"x":3.4,"y":10.5},{"x":3.7,"y":10.4},{"x":2.6,"y":10.8},{"x":2.1,"y":10.4},{"x":1.6,"y":10.3},{"x":1.3,"y":10},{"x":1.8,"y":9.9},{"x":2.3,"y":9.9},{"x":3,"y":10},{"x":4.6,"y":10},{"x":1.4,"y":9.5},{"x":1.8,"y":9.4},{"x":2.2,"y":9.2},{"x":1.3,"y":9.1},{"x":1.6,"y":9},{"x":2,"y":9},{"x":2.6,"y":9.1},{"x":3,"y":9.1},{"x":3.3,"y":8.9},{"x":3.6,"y":8.9},{"x":1.5,"y":8.6},{"x":1.9,"y":8.6},{"x":2.4,"y":8.7},{"x":2.9,"y":8.6},{"x":3.5,"y":8.5},{"x":1.9,"y":8.1},{"x":2.3,"y":8.1},{"x":2.8,"y":8.2},{"x":3.2,"y":8},{"x":3.9,"y":8},{"x":1.7,"y":7.8},{"x":2.1,"y":7.6},{"x":2.6,"y":7.6},{"x":3.1,"y":7.5},{"x":3.5,"y":7.4},{"x":4.3,"y":7.4},{"x":4.7,"y":7.4},{"x":1.6,"y":7.2},{"x":1.9,"y":7.1},{"x":2.4,"y":7.1},{"x":2.9,"y":7},{"x":5.4,"y":7},{"x":5.4,"y":6.6},{"x":1.8,"y":6.7},{"x":2.2,"y":6.6},{"x":2.7,"y":6.5},{"x":3.2,"y":6.5},{"x":3.6,"y":6.3},{"x":4.1,"y":6.3},{"x":4.6,"y":6.2},{"x":5.3,"y":6.1},{"x":2,"y":6.1},{"x":2.5,"y":6},{"x":3,"y":5.9},{"x":3.5,"y":5.8},{"x":4,"y":6},{"x":4.4,"y":5.7},{"x":5.9,"y":5.7},{"x":2.1,"y":5.5},{"x":2.6,"y":5.4},{"x":3.1,"y":5.4},{"x":3.6,"y":5.3},{"x":4.1,"y":5.2},{"x":5.8,"y":5},{"x":5.7,"y":4.8},{"x":2.2,"y":5},{"x":2.7,"y":4.8},{"x":3.2,"y":4.8},{"x":3.7,"y":4.6},{"x":4.3,"y":4.6},{"x":2.1,"y":4.5},{"x":2.5,"y":4.3},{"x":3,"y":4.3},{"x":3.5,"y":4.2},{"x":4,"y":4.1},{"x":2.3,"y":4},{"x":2.8,"y":3.8},{"x":3.3,"y":3.8},{"x":3.8,"y":3.7},{"x":4.4,"y":3.7},{"x":4.6,"y":3.5},{"x":5.5,"y":3.6},{"x":5.3,"y":3.4},{"x":5.2,"y":3.1},{"x":5.4,"y":3},{"x":2.4,"y":3.4},{"x":2.9,"y":3.3},{"x":3.4,"y":3.3},{"x":3.9,"y":3.2},{"x":4.4,"y":3.1},{"x":2.2,"y":3},{"x":2.7,"y":2.95},{"x":3.2,"y":2.9},{"x":3.7,"y":2.9},{"x":4.2,"y":2.9},{"x":4.8,"y":2.95},{"x":1.4,"y":8.2},{"x":1.6,"y":8.3},{"x":1.3,"y":8.7},{"x":1.7,"y":8.8},{"x":2.1,"y":8.4},{"x":2.5,"y":8.4},{"x":1.4,"y":7.6},{"x":1.8,"y":7.4},{"x":2.2,"y":7.3},{"x":1.5,"y":6.9},{"x":2,"y":6.9},{"x":2.6,"y":7.2},{"x":1.7,"y":6.4},{"x":2.1,"y":6.4},{"x":2.4,"y":6.4},{"x":2.9,"y":6.2},{"x":2.3,"y":5.8},{"x":2.7,"y":5.7},{"x":3.3,"y":5.6},{"x":2.4,"y":5.2},{"x":2.9,"y":5.1},{"x":3.4,"y":5},{"x":2.6,"y":4.6},{"x":2.9,"y":4.6},{"x":3.2,"y":4.5},{"x":2.5,"y":3.7},{"x":3,"y":3.6},{"x":3.6,"y":3.5},{"x":1.8,"y":10.8},{"x":1.4,"y":10.7},{"x":2.2,"y":10.2},{"x":1.7,"y":11.3},{"x":1.9,"y":11.9},{"x":2.3,"y":12.4},{"x":1.9,"y":13.2},{"x":2.4,"y":13.9},{"x":2.1,"y":14.7}]},"mark":{"type":"point","filled":true,"size":3.5,"color":"#8c1a1a","opacity":1},"encoding":{"x":{"field":"x","type":"quantitative"},"y":{"field":"y","type":"quantitative"}}},
{"mark":{"type":"rule","stroke":"#999","strokeWidth":0.7,"strokeDash":[1.5,1.5]},"encoding":{"x":{"datum":-12.9},"x2":{"datum":12.9},"y":{"datum":2.85}}},
{"mark":{"type":"rect","fillOpacity":0,"stroke":"#999","strokeWidth":1},"encoding":{"x":{"datum":-12.9},"x2":{"datum":12.9},"y":{"datum":-0.57},"y2":{"datum":15.67}}},
{"mark":{"type":"text","text":"down: 902"},"encoding":{"x":{"datum":-11.67},"y":{"datum":14.25}}},
{"mark":{"type":"text","text":"up: 1095"},"encoding":{"x":{"datum":6.8},"y":{"datum":14.25}}},
{"mark":{"type":"text","text":"A","fontSize":14.5,"fontWeight":"bold","baseline":"alphabetic","color":"#000"},"encoding":{"x":{"datum":-16.89},"y":{"datum":16.43}}}
]},
{"layer":[
{"data":{"name":"h1"},"mark":{"type":"rect","stroke":"#fff","strokeWidth":0.5},"encoding":{"x":{"field":"s","type":"ordinal","scale":{"domain":[1,2,3,4,5,6,7,8,9,10,11,12],"range":[370.3,506],"paddingInner":0,"paddingOuter":0},"axis":{"orient":"bottom","labels":false,"ticks":false,"domain":false,"title":null}},"y":{"field":"g","type":"nominal","scale":{"domain":["","ID3","LEF1","TCF7","IRF4","ATF7","JUN","EOMES","JUNB","MYB","BATF","BATF3","TBX21","ID2","FOS","FOSB","HIF1A","PRDM1","BHLHE40"],"range":[4,256.7],"paddingInner":0,"paddingOuter":0},"axis":{"orient":"right","offset":-260,"ticks":false,"domain":false,"labelFontSize":10.8,"labelFontStyle":"italic","labelPadding":4,"title":"transcription factors","titleAngle":270,"titleX":-144.3,"titleY":140}},"color":{"field":"z","type":"quantitative","legend":null,"scale":{"type":"threshold","domain":[-1.6,-1.2,-0.8,-0.4,-0.05,0.05,0.8,1.6,2,2.4],"range":["#00007f","#0000cc","#1f1fff","#7f7fff","#cfcfff","#ffffff","#ffcfcf","#ff7373","#ff1f1f","#d90000","#a60000"]}}}},
{"data":{"name":"ctrlS"},"mark":{"type":"rect","height":3.8,"yOffset":3.5,"fill":"#178017"},"encoding":{"x":{"field":"s","type":"ordinal"},"y":{"datum":"","type":"nominal"}}},
{"data":{"name":"nacS"},"mark":{"type":"rect","height":3.8,"yOffset":3.5,"fill":"#f5a623"},"encoding":{"x":{"field":"s","type":"ordinal"},"y":{"datum":"","type":"nominal"}}},
{"mark":{"type":"text","text":"CTRL","fontSize":10.5,"align":"center","dx":1.5,"dy":-4.5},"encoding":{"x":{"datum":3,"type":"ordinal","bandPosition":1},"y":{"datum":"","type":"nominal"}}},
{"mark":{"type":"text","text":"NAC","fontSize":10.5,"align":"center","dx":1.7,"dy":-4.5},"encoding":{"x":{"datum":9,"type":"ordinal","bandPosition":1},"y":{"datum":"","type":"nominal"}}},
{"mark":{"type":"text","text":"B","fontSize":14.5,"fontWeight":"bold","baseline":"alphabetic","color":"#000","dx":-72.3,"dy":11.35},"encoding":{"x":{"datum":1,"type":"ordinal","bandPosition":0},"y":{"datum":"","type":"nominal"}}}
]},
{"data":{"values":[{"z":2.6,"lo":2.293,"hi":2.77},{"z":2.2,"lo":1.816,"hi":2.293},{"z":1.8,"lo":1.339,"hi":1.816},{"z":1.2,"lo":0.862,"hi":1.339},{"z":0.4,"lo":0.385,"hi":0.862},{"z":-0.2,"lo":-0.092,"hi":0.385},{"z":-0.6,"lo":-0.569,"hi":-0.092},{"z":-1,"lo":-1.046,"hi":-0.569},{"z":-1.4,"lo":-1.523,"hi":-1.046},{"z":-1.8,"lo":-2,"hi":-1.523}]},"mark":{"type":"rect"},"encoding":{"x":{"datum":0,"scale":{"domain":[0,1],"range":[333.3,346.7],"nice":false},"axis":{"orient":"bottom","labels":false,"ticks":false,"domain":false,"title":null}},"x2":{"datum":1},"y":{"field":"lo","type":"quantitative","scale":{"domain":[-2,2.77],"range":[66.7,18.3],"nice":false,"zero":false},"axis":{"orient":"right","offset":-419.3,"values":[2.4,1.6,0.8,0,-0.8,-1.6],"format":".1f","domain":false,"tickSize":2,"labelFontSize":8.5,"labelAlign":"right","labelPadding":18.6,"title":"Z-score","titleAngle":270,"titleX":-21.7,"titleY":45}},"y2":{"field":"hi"},"color":{"field":"z","type":"quantitative","legend":null,"scale":{"type":"threshold","domain":[-1.6,-1.2,-0.8,-0.4,-0.05,0.05,0.8,1.6,2,2.4],"range":["#00007f","#0000cc","#1f1fff","#7f7fff","#cfcfff","#ffffff","#ffcfcf","#ff7373","#ff1f1f","#d90000","#a60000"]}}}},
{"layer":[
{"data":{"name":"h2"},"mark":{"type":"rect","stroke":"#fff","strokeWidth":0.5},"encoding":{"x":{"field":"s","type":"ordinal","scale":{"domain":[1,2,3,4,5,6,7,8,9,10,11,12],"range":[568.3,704],"paddingInner":0,"paddingOuter":0},"axis":{"orient":"bottom","labels":false,"ticks":false,"domain":false,"title":null}},"y":{"field":"g","type":"nominal","scale":{"domain":["","TIGIT","KLRG1","CD27","IL18RAP","IL1RN","IL1RAP","TNFRSF9","CTLA4","HAVCR2","IL2RA","TNFRSF4","IL18R1","CD40LG","CD38","ICOS","CD274","CD40","LAG3","IL1RL1"],"range":[4,269],"paddingInner":0,"paddingOuter":0},"axis":{"orient":"right","offset":-62,"ticks":false,"domain":false,"labelFontSize":10.8,"labelFontStyle":"italic","labelPadding":5,"title":"activation/exhaustion","titleAngle":270,"titleX":-142.3,"titleY":126}},"color":{"field":"z","type":"quantitative","legend":null,"scale":{"type":"threshold","domain":[-1.6,-1.2,-0.8,-0.4,-0.05,0.05,0.8,1.6,2,2.4],"range":["#00007f","#0000cc","#1f1fff","#7f7fff","#cfcfff","#ffffff","#ffcfcf","#ff7373","#ff1f1f","#d90000","#a60000"]}}}},
{"data":{"name":"ctrlS"},"mark":{"type":"rect","height":3.8,"yOffset":3.5,"fill":"#178017"},"encoding":{"x":{"field":"s","type":"ordinal"},"y":{"datum":"","type":"nominal"}}},
{"data":{"name":"nacS"},"mark":{"type":"rect","height":3.8,"yOffset":3.5,"fill":"#f5a623"},"encoding":{"x":{"field":"s","type":"ordinal"},"y":{"datum":"","type":"nominal"}}},
{"mark":{"type":"text","text":"CTRL","fontSize":10.5,"align":"center","dx":-2,"dy":-4.5},"encoding":{"x":{"datum":3,"type":"ordinal","bandPosition":1},"y":{"datum":"","type":"nominal"}}},
{"mark":{"type":"text","text":"NAC","fontSize":10.5,"align":"center","dx":-4,"dy":-4.5},"encoding":{"x":{"datum":9,"type":"ordinal","bandPosition":1},"y":{"datum":"","type":"nominal"}}}
]},
{"layer":[
{"data":{"name":"h3"},"mark":{"type":"rect","stroke":"#fff","strokeWidth":0.5},"encoding":{"x":{"field":"s","type":"ordinal","scale":{"domain":[1,2,3,4,5,6,7,8,9,10,11,12],"range":[369,505.3],"paddingInner":0,"paddingOuter":0},"axis":{"orient":"bottom","labels":false,"ticks":false,"domain":false,"title":null}},"y":{"field":"g","type":"nominal","scale":{"domain":["","CCL25","GZMM","CCL5","GZMH","CCL3","CCL4","IFNB1","CCL1","GZMK","IFNG","FASLG","CCL22","GZMB","GZMA"],"range":[269.4,468.9],"paddingInner":0,"paddingOuter":0},"axis":{"orient":"right","offset":-260.7,"ticks":false,"domain":false,"labelFontSize":10.8,"labelFontStyle":"italic","labelPadding":3,"title":"effector function","titleAngle":270,"titleX":-143.6,"titleY":369}},"color":{"field":"z","type":"quantitative","legend":null,"scale":{"type":"threshold","domain":[-1.6,-1.2,-0.8,-0.4,-0.05,0.05,0.8,1.6,2,2.4],"range":["#00007f","#0000cc","#1f1fff","#7f7fff","#cfcfff","#ffffff","#ffcfcf","#ff7373","#ff1f1f","#d90000","#a60000"]}}}},
{"data":{"name":"ctrlS"},"mark":{"type":"rect","height":3.8,"yOffset":3.8,"fill":"#178017"},"encoding":{"x":{"field":"s","type":"ordinal"},"y":{"datum":"","type":"nominal"}}},
{"data":{"name":"nacS"},"mark":{"type":"rect","height":3.8,"yOffset":3.8,"fill":"#f5a623"},"encoding":{"x":{"field":"s","type":"ordinal"},"y":{"datum":"","type":"nominal"}}}
]},
{"layer":[
{"data":{"name":"h4"},"mark":{"type":"rect","stroke":"#fff","strokeWidth":0.5},"encoding":{"x":{"field":"s","type":"ordinal","scale":{"domain":[1,2,3,4,5,6,7,8,9,10,11,12],"range":[568,704],"paddingInner":0,"paddingOuter":0},"axis":{"orient":"bottom","labels":false,"ticks":false,"domain":false,"title":null}},"y":{"field":"g","type":"nominal","scale":{"domain":["","PECAM1","CEACAM21","CXCR3","JAML","CCR7","ICAM2","ITGA6","ITGA3","CCR4","CXCR6","ICAM1","CCR5","CCR1","CCR3","ITGAE","ADAM19","CD2"],"range":[267.7,507.7],"paddingInner":0,"paddingOuter":0},"axis":{"orient":"right","offset":-62,"ticks":false,"domain":false,"labelFontSize":10.5,"labelFontStyle":"italic","labelPadding":2.7,"title":"homing/adhesion","titleAngle":270,"titleX":-144,"titleY":379}},"color":{"field":"z","type":"quantitative","legend":null,"scale":{"type":"threshold","domain":[-1.6,-1.2,-0.8,-0.4,-0.05,0.05,0.8,1.6,2,2.4],"range":["#00007f","#0000cc","#1f1fff","#7f7fff","#cfcfff","#ffffff","#ffcfcf","#ff7373","#ff1f1f","#d90000","#a60000"]}}}},
{"data":{"name":"ctrlS"},"mark":{"type":"rect","height":3.8,"yOffset":4.5,"fill":"#178017"},"encoding":{"x":{"field":"s","type":"ordinal"},"y":{"datum":"","type":"nominal"}}},
{"data":{"name":"nacS"},"mark":{"type":"rect","height":3.8,"yOffset":4.5,"fill":"#f5a623"},"encoding":{"x":{"field":"s","type":"ordinal"},"y":{"datum":"","type":"nominal"}}}
]},
{"layer":[
{"data":{"values":[{"g":1,"v":34.2},{"g":2,"v":62.6}]},"mark":{"type":"bar","orient":"vertical","size":17,"fill":"#fff","stroke":"#444","strokeWidth":1.3},"encoding":{"x":{"field":"g","type":"quantitative","scale":{"domain":[0.467,2.638],"range":[46.7,109],"nice":false,"zero":false},"axis":{"orient":"bottom","offset":-458,"labels":false,"ticks":false,"title":"LEF1","titleFontStyle":"italic","titleX":66.7,"titleY":13.3}},"y":{"field":"v","type":"quantitative","stack":null,"scale":{"domain":[0,100],"range":[469,293.3],"nice":false},"axis":{"orient":"left","offset":-46.7,"values":[0,20,40,60,80,100],"format":"d","tickSize":5,"labelPadding":2,"title":"Relative expression","titleX":-31.7,"titleY":381.7}}}},
{"data":{"values":[{"g":1,"lo":24.8,"hi":43.6},{"g":2,"lo":48,"hi":77}]},"mark":{"type":"rule","stroke":"#333","strokeWidth":1.3},"encoding":{"x":{"field":"g","type":"quantitative"},"y":{"field":"lo","type":"quantitative"},"y2":{"field":"hi"}}},
{"data":{"values":[{"g":1.05,"v":59,"c":"CTRL"},{"g":1.05,"v":35.5,"c":"CTRL"},{"g":1.05,"v":26.4,"c":"CTRL"},{"g":1.05,"v":17.5,"c":"CTRL"},{"g":2.02,"v":96.6,"c":"NAC"},{"g":2.02,"v":78.2,"c":"NAC"},{"g":2.02,"v":45.4,"c":"NAC"},{"g":2.02,"v":31,"c":"NAC"}]},"mark":{"type":"point","filled":true,"size":20,"opacity":1},"encoding":{"x":{"field":"g","type":"quantitative"},"y":{"field":"v","type":"quantitative"},"color":{"field":"c","type":"nominal","legend":null,"scale":{"domain":["CTRL","NAC"],"range":["#999999","#000000"]}}}},
{"mark":{"type":"rule","stroke":"#666","strokeWidth":1.5},"encoding":{"x":{"datum":0.99},"x2":{"datum":1.94},"y":{"datum":105.5}}},
{"mark":{"type":"text","text":"*","fontSize":18,"fontWeight":"bold","align":"center","baseline":"alphabetic"},"encoding":{"x":{"datum":1.38},"y":{"datum":104.3}}},
{"mark":{"type":"text","text":"C","fontSize":14.5,"fontWeight":"bold","baseline":"alphabetic","color":"#000"},"encoding":{"x":{"datum":-0.951},"y":{"datum":109.3}}}
]},
{"layer":[
{"data":{"values":[{"g":1,"v":1.13},{"g":2,"v":3.8}]},"mark":{"type":"bar","orient":"vertical","size":17,"fill":"#fff","stroke":"#444","strokeWidth":1.3},"encoding":{"x":{"field":"g","type":"quantitative","scale":{"domain":[0.402,2.623],"range":[137.7,199],"nice":false,"zero":false},"axis":{"orient":"bottom","offset":-458,"labels":false,"ticks":false,"title":"TCF7","titleFontStyle":"italic","titleX":170,"titleY":13.3}},"y":{"field":"v","type":"quantitative","stack":null,"scale":{"domain":[0,6],"range":[469,295.7],"nice":false},"axis":{"orient":"left","offset":-137.7,"values":[0,2,4,6],"format":"d","tickSize":5,"labelPadding":2,"title":null}}}},
{"data":{"values":[{"g":1,"lo":0.5,"hi":1.75},{"g":2,"lo":2.81,"hi":4.83}]},"mark":{"type":"rule","stroke":"#333","strokeWidth":1.3},"encoding":{"x":{"field":"g","type":"quantitative"},"y":{"field":"lo","type":"quantitative"},"y2":{"field":"hi"}}},
{"data":{"values":[{"g":1,"v":2.35,"c":"CTRL"},{"g":1,"v":0.74,"c":"CTRL"},{"g":1,"v":0.38,"c":"CTRL"},{"g":2,"v":5.64,"c":"NAC"},{"g":2,"v":3.67,"c":"NAC"},{"g":2,"v":2.18,"c":"NAC"}]},"mark":{"type":"point","filled":true,"size":20,"opacity":1},"encoding":{"x":{"field":"g","type":"quantitative"},"y":{"field":"v","type":"quantitative"},"color":{"field":"c","type":"nominal","legend":null,"scale":{"domain":["CTRL","NAC"],"range":["#999999","#000000"]}}}},
{"mark":{"type":"rule","stroke":"#666","strokeWidth":1.5},"encoding":{"x":{"datum":0.96},"x2":{"datum":1.92},"y":{"datum":6.416}}},
{"mark":{"type":"text","text":"*","fontSize":18,"fontWeight":"bold","align":"center","baseline":"alphabetic"},"encoding":{"x":{"datum":1.46},"y":{"datum":6.35}}}
]},
{"layer":[
{"data":{"values":[{"g":1,"v":8.9},{"g":2,"v":1.4}]},"mark":{"type":"bar","orient":"vertical","size":17,"fill":"#fff","stroke":"#444","strokeWidth":1.3},"encoding":{"x":{"field":"g","type":"quantitative","scale":{"domain":[0.397,2.62],"range":[235,297.7],"nice":false,"zero":false},"axis":{"orient":"bottom","offset":-458,"labels":false,"ticks":false,"title":"PRDM1","titleFontStyle":"italic","titleX":261.7,"titleY":13.3}},"y":{"field":"v","type":"quantitative","stack":null,"scale":{"domain":[0,25],"range":[469,295.7],"nice":false},"axis":{"orient":"left","offset":-235,"values":[0,5,10,15,20,25],"format":"d","tickSize":5,"labelPadding":2,"title":null}}}},
{"data":{"values":[{"g":1,"lo":5.2,"hi":12.6},{"g":2,"lo":0.5,"hi":2.26}]},"mark":{"type":"rule","stroke":"#333","strokeWidth":1.3},"encoding":{"x":{"field":"g","type":"quantitative"},"y":{"field":"lo","type":"quantitative"},"y2":{"field":"hi"}}},
{"data":{"values":[{"g":1,"v":23.2,"c":"CTRL"},{"g":0.71,"v":5.87,"c":"CTRL"},{"g":1.27,"v":6.35,"c":"CTRL"},{"g":1,"v":5.38,"c":"CTRL"},{"g":1,"v":4.18,"c":"CTRL"},{"g":2,"v":4.33,"c":"NAC"},{"g":2.3,"v":1.3,"c":"NAC"},{"g":1.7,"v":0.82,"c":"NAC"},{"g":2.1,"v":0.82,"c":"NAC"},{"g":1.9,"v":0.34,"c":"NAC"}]},"mark":{"type":"point","filled":true,"size":20,"opacity":1},"encoding":{"x":{"field":"g","type":"quantitative"},"y":{"field":"v","type":"quantitative"},"color":{"field":"c","type":"nominal","legend":null,"scale":{"domain":["CTRL","NAC"],"range":["#999999","#000000"]}}}},
{"mark":{"type":"rule","stroke":"#666","strokeWidth":1.5},"encoding":{"x":{"datum":1.05},"x2":{"datum":2.02},"y":{"datum":26.74}}},
{"mark":{"type":"text","text":"*","fontSize":18,"fontWeight":"bold","align":"center","baseline":"alphabetic"},"encoding":{"x":{"datum":1.5},"y":{"datum":26.45}}},
{"data":{"values":[{"t":"CTRL","y":26.7},{"t":"NAC","y":24.1}]},"mark":{"type":"point","filled":true,"size":42,"opacity":1},"encoding":{"x":{"datum":2.667},"y":{"field":"y","type":"quantitative"},"color":{"field":"t","type":"nominal","legend":null}}},
{"data":{"values":[{"t":"CTRL","y":26.7},{"t":"NAC","y":24.1}]},"mark":{"type":"text"},"encoding":{"x":{"datum":2.94},"y":{"field":"y","type":"quantitative"},"text":{"field":"t"}}}
]},
{"layer":[
{"data":{"values":[{"c":8,"v":0},{"c":17,"v":2},{"c":25,"v":5},{"c":30,"v":11.5},{"c":38,"v":14},{"c":42,"v":28},{"c":47,"v":41},{"c":50,"v":50},{"c":53,"v":71},{"c":57,"v":83},{"c":60,"v":97},{"c":63,"v":96},{"c":67,"v":92},{"c":70,"v":68},{"c":73,"v":59},{"c":77,"v":50},{"c":80,"v":42},{"c":83,"v":39},{"c":87,"v":24},{"c":90,"v":9},{"c":93,"v":1},{"c":97,"v":0}]},"mark":{"type":"area","color":"#8c8c8c"},"encoding":{"x":{"field":"c","type":"quantitative","scale":{"domain":[0,132],"range":[41.7,174],"nice":false},"axis":{"orient":"bottom","offset":-283,"values":[10,15,20,25,30,35,45,55,65,72,78,84,90,96,104,110,116,124],"labelExpr":"datum.value==25?'0':datum.value==65?'10³':datum.value==96?'10⁴':datum.value==124?'10⁵':''","tickSize":3,"tickColor":"#222","domain":false,"labelPadding":4,"title":"TCF-1","titleX":104,"titleY":27}},"y":{"field":"v","type":"quantitative","stack":null,"scale":{"domain":[0,104.7],"range":[644,517.7],"nice":false},"axis":{"orient":"left","offset":-41.7,"values":[0,5,10,15,20,25,30,35,40,45,50,55,60,65,70,75,80,85,90,95,100],"labelExpr":"datum.value%20==0?datum.label:''","tickSize":3,"tickColor":"#222","domain":false,"labelPadding":2,"title":"% of max","titleX":-25.7,"titleY":578}}}},
{"data":{"values":[{"c":35,"v":2},{"c":45,"v":7.5},{"c":53,"v":16},{"c":58,"v":38},{"c":63,"v":57},{"c":68,"v":76},{"c":70,"v":91},{"c":73,"v":95},{"c":75,"v":98},{"c":77,"v":71},{"c":78,"v":57},{"c":81,"v":27},{"c":83,"v":5},{"c":87,"v":0}]},"mark":{"type":"line","stroke":"#b5b5b5","strokeWidth":1.6,"blend":"multiply"},"encoding":{"x":{"field":"c","type":"quantitative"},"y":{"field":"v","type":"quantitative"}}},
{"data":{"values":[{"c":25,"v":0},{"c":38,"v":2},{"c":52,"v":10},{"c":58,"v":17},{"c":65,"v":30},{"c":70,"v":46},{"c":75,"v":74},{"c":78,"v":93},{"c":81,"v":99},{"c":82,"v":74},{"c":86,"v":38},{"c":89,"v":13},{"c":93,"v":1},{"c":98,"v":0}]},"mark":{"type":"line","stroke":"#000","strokeWidth":1.8},"encoding":{"x":{"field":"c","type":"quantitative"},"y":{"field":"v","type":"quantitative"}}},
{"mark":{"type":"rect","fillOpacity":0,"stroke":"#000","strokeWidth":1},"encoding":{"x":{"datum":0},"x2":{"datum":132},"y":{"datum":0},"y2":{"datum":104.7}}},
{"mark":{"type":"text","text":"D","fontSize":14.5,"fontWeight":"bold","baseline":"alphabetic","color":"#000"},"encoding":{"x":{"datum":-36},"y":{"datum":109.5}}}
]},
{"layer":[
{"data":{"values":[{"c":25,"v":0},{"c":39,"v":7.5},{"c":52,"v":20},{"c":59,"v":24},{"c":62,"v":28},{"c":67,"v":20},{"c":70,"v":24},{"c":74,"v":38},{"c":77,"v":57},{"c":80,"v":77},{"c":84,"v":88},{"c":87,"v":99},{"c":90,"v":88},{"c":94,"v":57},{"c":97,"v":35},{"c":100,"v":18},{"c":104,"v":5},{"c":107,"v":0}]},"mark":{"type":"area","color":"#8c8c8c"},"encoding":{"x":{"field":"c","type":"quantitative","scale":{"domain":[0,130],"range":[174.3,304.3],"nice":false},"axis":{"orient":"bottom","offset":-283,"values":[6,12,17,22,30,38,46,52,58,66,72,78,84,94,103,110,120],"labelExpr":"datum.value==22?'0':datum.value==38?'10²':datum.value==66?'10³':datum.value==94?'10⁴':datum.value==120?'10⁵':''","tickSize":3,"tickColor":"#222","domain":false,"labelPadding":4,"title":"TIM-3","titleX":245,"titleY":27}},"y":{"field":"v","type":"quantitative","stack":null,"scale":{"domain":[0,104.7],"range":[644,517.7],"nice":false},"axis":{"orient":"left","offset":-174.3,"labels":false,"ticks":false,"domain":false,"title":null}}}},
{"data":{"values":[{"c":0,"v":58},{"c":3,"v":13},{"c":7,"v":14},{"c":12,"v":20},{"c":17,"v":17},{"c":24,"v":35},{"c":29,"v":38},{"c":31,"v":52},{"c":35,"v":53},{"c":39,"v":74},{"c":40,"v":89},{"c":42,"v":53},{"c":45,"v":96},{"c":48,"v":99},{"c":52,"v":88},{"c":55,"v":65},{"c":59,"v":41},{"c":62,"v":32},{"c":67,"v":16},{"c":74,"v":3},{"c":82,"v":3},{"c":89,"v":0}]},"mark":{"type":"line","stroke":"#b5b5b5","strokeWidth":1.6,"blend":"multiply"},"encoding":{"x":{"field":"c","type":"quantitative"},"y":{"field":"v","type":"quantitative"}}},
{"data":{"values":[{"c":0,"v":2},{"c":15,"v":3},{"c":25,"v":5},{"c":35,"v":10},{"c":42,"v":21},{"c":49,"v":32},{"c":54,"v":54},{"c":57,"v":71},{"c":60,"v":90},{"c":64,"v":99},{"c":65,"v":81},{"c":69,"v":88},{"c":72,"v":71},{"c":75,"v":60},{"c":80,"v":35},{"c":85,"v":13},{"c":90,"v":2},{"c":95,"v":0}]},"mark":{"type":"line","stroke":"#000","strokeWidth":1.8},"encoding":{"x":{"field":"c","type":"quantitative"},"y":{"field":"v","type":"quantitative"}}},
{"mark":{"type":"rect","fillOpacity":0,"stroke":"#000","strokeWidth":1},"encoding":{"x":{"datum":0},"x2":{"datum":130},"y":{"datum":0},"y2":{"datum":104.7}}}
]},
{"layer":[
{"data":{"values":[{"c":4,"v":0},{"c":22,"v":2},{"c":42,"v":6},{"c":56,"v":10},{"c":66,"v":24},{"c":72,"v":49},{"c":76,"v":82},{"c":79,"v":96},{"c":82,"v":99},{"c":84,"v":93},{"c":87,"v":68},{"c":91,"v":41},{"c":94,"v":5},{"c":96,"v":0}]},"mark":{"type":"area","color":"#8c8c8c"},"encoding":{"x":{"field":"c","type":"quantitative","scale":{"domain":[0,130],"range":[304.3,434],"nice":false},"axis":{"orient":"bottom","offset":-283,"values":[12,18,24,33,42,50,56,62,68,75,81,87,93,102,108,118],"labelExpr":"datum.value==33?'0':datum.value==68?'10³':datum.value==93?'10⁴':datum.value==118?'10⁵':''","tickSize":3,"tickColor":"#222","domain":false,"labelPadding":4,"title":"T-bet","titleX":374,"titleY":27}},"y":{"field":"v","type":"quantitative","stack":null,"scale":{"domain":[0,104.7],"range":[644,517.7],"nice":false},"axis":{"orient":"left","offset":-304.3,"labels":false,"ticks":false,"domain":false,"title":null}}}},
{"data":{"values":[{"c":1,"v":2},{"c":12,"v":5},{"c":29,"v":6},{"c":46,"v":5},{"c":59,"v":10},{"c":69,"v":30},{"c":74,"v":46},{"c":77,"v":65},{"c":82,"v":96},{"c":85,"v":90},{"c":88,"v":60},{"c":91,"v":30},{"c":95,"v":5},{"c":98,"v":0}]},"mark":{"type":"line","stroke":"#b5b5b5","strokeWidth":1.6,"blend":"multiply"},"encoding":{"x":{"field":"c","type":"quantitative"},"y":{"field":"v","type":"quantitative"}}},
{"data":{"values":[{"c":2,"v":0},{"c":16,"v":3},{"c":32,"v":7},{"c":46,"v":14},{"c":54,"v":30},{"c":59,"v":57},{"c":62,"v":82},{"c":66,"v":96},{"c":68,"v":99},{"c":71,"v":88},{"c":74,"v":57},{"c":79,"v":32},{"c":84,"v":16},{"c":91,"v":3},{"c":96,"v":0}]},"mark":{"type":"line","stroke":"#000","strokeWidth":1.8},"encoding":{"x":{"field":"c","type":"quantitative"},"y":{"field":"v","type":"quantitative"}}},
{"mark":{"type":"rect","fillOpacity":0,"stroke":"#000","strokeWidth":1},"encoding":{"x":{"datum":0},"x2":{"datum":130},"y":{"datum":0},"y2":{"datum":104.7}}}
]},
{"layer":[
{"data":{"values":[{"c":16,"v":0},{"c":39,"v":1},{"c":53,"v":5},{"c":61,"v":21},{"c":64,"v":35},{"c":68,"v":63},{"c":71,"v":90},{"c":74,"v":99},{"c":78,"v":92},{"c":81,"v":82},{"c":84,"v":71},{"c":88,"v":63},{"c":91,"v":38},{"c":94,"v":18},{"c":98,"v":8},{"c":103,"v":2},{"c":109,"v":0}]},"mark":{"type":"area","color":"#8c8c8c"},"encoding":{"x":{"field":"c","type":"quantitative","scale":{"domain":[0,130],"range":[434,564.3],"nice":false},"axis":{"orient":"bottom","offset":-283,"values":[6,12,18,24,34,44,52,58,64,72,78,84,91,100,106,117],"labelExpr":"datum.value==24?'0':datum.value==64?'10³':datum.value==91?'10⁴':datum.value==117?'10⁵':''","tickSize":3,"tickColor":"#222","domain":false,"labelPadding":4,"title":"GZMB","titleX":503.6,"titleY":27}},"y":{"field":"v","type":"quantitative","stack":null,"scale":{"domain":[0,104.7],"range":[644,517.7],"nice":false},"axis":{"orient":"left","offset":-434,"labels":false,"ticks":false,"domain":false,"title":null}}}},
{"data":{"values":[{"c":6,"v":0},{"c":19,"v":7},{"c":29,"v":18},{"c":36,"v":38},{"c":43,"v":60},{"c":48,"v":88},{"c":51,"v":96},{"c":54,"v":99},{"c":58,"v":85},{"c":61,"v":60},{"c":64,"v":41},{"c":69,"v":27},{"c":78,"v":34},{"c":84,"v":38},{"c":89,"v":24},{"c":94,"v":10},{"c":103,"v":2},{"c":109,"v":0}]},"mark":{"type":"line","stroke":"#b5b5b5","strokeWidth":1.6,"blend":"multiply"},"encoding":{"x":{"field":"c","type":"quantitative"},"y":{"field":"v","type":"quantitative"}}},
{"data":{"values":[{"c":1,"v":1},{"c":9,"v":5},{"c":19,"v":10},{"c":26,"v":27},{"c":34,"v":36},{"c":38,"v":60},{"c":41,"v":57},{"c":46,"v":96},{"c":51,"v":94},{"c":54,"v":98},{"c":58,"v":96},{"c":61,"v":66},{"c":66,"v":35},{"c":73,"v":15},{"c":81,"v":17},{"c":89,"v":10},{"c":98,"v":6},{"c":108,"v":3},{"c":116,"v":0}]},"mark":{"type":"line","stroke":"#000","strokeWidth":1.8},"encoding":{"x":{"field":"c","type":"quantitative"},"y":{"field":"v","type":"quantitative"}}},
{"mark":{"type":"rect","fillOpacity":0,"stroke":"#000","strokeWidth":1},"encoding":{"x":{"datum":0},"x2":{"datum":130},"y":{"datum":0},"y2":{"datum":104.7}}},
{"mark":{"type":"point","shape":"square","size":210,"fillOpacity":0,"stroke":"#b5b5b5","strokeWidth":2.5,"opacity":1},"encoding":{"x":{"datum":151},"y":{"datum":96.2}}},
{"mark":{"type":"point","shape":"square","size":210,"fillOpacity":0,"stroke":"#000","strokeWidth":2.5,"opacity":1},"encoding":{"x":{"datum":151},"y":{"datum":76.3}}},
{"mark":{"type":"point","shape":"square","size":275,"filled":true,"color":"#999","opacity":1},"encoding":{"x":{"datum":151},"y":{"datum":56.4}}},
{"data":{"values":[{"t":"PBMCs","y":96.2},{"t":"NAC","y":76.3},{"t":"CTRL","y":56.4}]},"mark":{"type":"text","fontSize":11},"encoding":{"x":{"datum":163.3},"y":{"field":"y","type":"quantitative"},"text":{"field":"t"}}}
]},
{"layer":[
{"data":{"values":[{"g":1.07,"v":24.8,"c":"CTRL"}]},"mark":{"type":"point","filled":true,"size":20,"opacity":1},"encoding":{"x":{"field":"g","type":"quantitative","scale":{"domain":[0.267,2.725],"range":[36.7,95.7],"nice":false,"zero":false},"axis":{"orient":"bottom","labels":false,"ticks":false,"domain":false,"title":null}},"y":{"field":"v","type":"quantitative","scale":{"domain":[15,30],"range":[766.7,735],"nice":false,"zero":false},"axis":{"orient":"left","offset":-36.7,"values":[15,30],"format":"d","tickSize":5,"labelPadding":2,"title":null}},"color":{"field":"c","type":"nominal","legend":null,"scale":{"domain":["CTRL","NAC"],"range":["#999999","#000000"]}}}},
{"mark":{"type":"rule","stroke":"#222","strokeWidth":1.3},"encoding":{"x":{"datum":1.03},"x2":{"datum":1.975},"y":{"datum":31.9}}},
{"mark":{"type":"text","text":"*","fontSize":18,"fontWeight":"bold","align":"center","baseline":"alphabetic"},"encoding":{"x":{"datum":1.5},"y":{"datum":30.47}}},
{"mark":{"type":"text","text":"E","fontSize":14.5,"fontWeight":"bold","baseline":"alphabetic","color":"#000"},"encoding":{"x":{"datum":-1.01},"y":{"datum":43.7}}},
{"data":{"values":[{"t":"CTRL","y":41.5},{"t":"NAC","y":32.2}]},"mark":{"type":"point","filled":true,"size":42,"opacity":1},"encoding":{"x":{"datum":3.375},"y":{"field":"y","type":"quantitative"},"color":{"field":"t","type":"nominal","legend":null}}},
{"data":{"values":[{"t":"CTRL","y":41.5},{"t":"NAC","y":32.2}]},"mark":{"type":"text"},"encoding":{"x":{"datum":3.667},"y":{"field":"y","type":"quantitative"},"text":{"field":"t"}}}
]},
{"layer":[
{"data":{"values":[{"g":1,"v":8.55},{"g":2,"v":3.18}]},"mark":{"type":"bar","orient":"vertical","size":17,"fill":"#fff","stroke":"#444","strokeWidth":1.3},"encoding":{"x":{"field":"g","type":"quantitative","scale":{"domain":[0.267,2.725],"range":[36.7,95.7],"nice":false,"zero":false},"axis":{"orient":"bottom","offset":-17.3,"labels":false,"ticks":false,"title":"HNRNPLL","titleFontStyle":"italic","titleX":71.7,"titleY":12.3}},"y":{"field":"v","type":"quantitative","stack":null,"scale":{"domain":[0,15],"range":[909.7,782.3],"nice":false},"axis":{"orient":"left","offset":-36.7,"values":[0,5,10,15],"format":"d","tickSize":5,"labelPadding":2,"title":"TPM","titleX":-31.7,"titleY":819}}}},
{"data":{"values":[{"g":1,"lo":5.1,"hi":12},{"g":2.05,"lo":2.1,"hi":4.3}]},"mark":{"type":"rule","stroke":"#333","strokeWidth":1.3},"encoding":{"x":{"field":"g","type":"quantitative"},"y":{"field":"lo","type":"quantitative"},"y2":{"field":"hi"}}},
{"data":{"values":[{"g":0.724,"v":5.73,"c":"CTRL"},{"g":0.849,"v":4.2,"c":"CTRL"},{"g":1.07,"v":5.53,"c":"CTRL"},{"g":1.293,"v":5.45,"c":"CTRL"},{"g":1.43,"v":6.24,"c":"CTRL"},{"g":2.07,"v":5.96,"c":"NAC"},{"g":2.07,"v":4.28,"c":"NAC"},{"g":1.724,"v":2.82,"c":"NAC"},{"g":2.07,"v":2.7,"c":"NAC"},{"g":2.43,"v":2.94,"c":"NAC"},{"g":2.07,"v":1.06,"c":"NAC"}]},"mark":{"type":"point","filled":true,"size":20,"opacity":1},"encoding":{"x":{"field":"g","type":"quantitative"},"y":{"field":"v","type":"quantitative"},"color":{"field":"c","type":"nominal","legend":null,"scale":{"domain":["CTRL","NAC"],"range":["#999999","#000000"]}}}}
]},
{"layer":[
{"data":{"values":[{"r":17},{"r":34.3},{"r":51},{"r":68},{"r":85}]},"mark":{"type":"rule","stroke":"#ddd","strokeWidth":0.7,"strokeDash":[1,2]},"encoding":{"x":{"field":"r","type":"quantitative","scale":{"domain":[0,100],"range":[232,476],"nice":false},"axis":{"orient":"bottom","labels":false,"ticks":false,"domain":false,"title":null}},"y":{"datum":-0.21,"scale":{"domain":[-0.21,0.274],"range":[860,751.7],"nice":false,"zero":false},"axis":{"orient":"left","offset":-232,"values":[0.2,0.1,0,-0.1,-0.2],"domain":false,"ticks":false,"labelPadding":4,"labelFontSize":11.5,"labelExpr":"datum.value==0?'0':format(datum.value,'.1f')","title":"Enrichment Score","titleX":-35.3,"titleY":814}},"y2":{"datum":0.274}}},
{"data":{"values":[{"e":0.25},{"e":0.2},{"e":0.15},{"e":0.1},{"e":0.05},{"e":-0.05},{"e":-0.1},{"e":-0.15},{"e":-0.2}]},"mark":{"type":"rule","stroke":"#ddd","strokeWidth":0.7,"strokeDash":[1,2]},"encoding":{"x":{"datum":0},"x2":{"datum":100},"y":{"field":"e","type":"quantitative"}}},
{"mark":{"type":"rule","stroke":"#ccc","strokeWidth":1.6},"encoding":{"x":{"datum":0},"x2":{"datum":100},"y":{"datum":0}}},
{"data":{"values":[{"r":0,"e":0},{"r":2.2,"e":-0.021},{"r":3,"e":-0.007},{"r":4.5,"e":-0.028},{"r":5.05,"e":0.027},{"r":8.5,"e":-0.01},{"r":9,"e":0.004},{"r":10.4,"e":-0.01},{"r":10.65,"e":0.048},{"r":11.6,"e":0.039},{"r":12.4,"e":0.055},{"r":13.25,"e":0.043},{"r":13.66,"e":0.077},{"r":15.2,"e":0.055},{"r":15.7,"e":0.115},{"r":16.4,"e":0.11},{"r":16.8,"e":0.165},{"r":17.2,"e":0.2},{"r":17.8,"e":0.251},{"r":18.7,"e":0.231},{"r":19.4,"e":0.251},{"r":20.2,"e":0.234},{"r":21,"e":0.253},{"r":21.7,"e":0.251},{"r":34.7,"e":0.113},{"r":35,"e":0.125},{"r":43.3,"e":0.034},{"r":43.7,"e":0.052},{"r":64.75,"e":-0.171},{"r":65.2,"e":-0.155},{"r":67.8,"e":-0.188},{"r":68.3,"e":-0.17},{"r":69.9,"e":-0.188},{"r":70.8,"e":-0.179},{"r":71.3,"e":-0.15},{"r":71.9,"e":-0.128},{"r":73,"e":-0.138},{"r":74.3,"e":-0.091},{"r":75,"e":-0.046},{"r":76,"e":-0.028},{"r":76.8,"e":-0.021},{"r":78.1,"e":-0.039},{"r":79.8,"e":0.021},{"r":81.6,"e":0.001},{"r":83.2,"e":0.07},{"r":88.7,"e":0.006},{"r":89.6,"e":0.034},{"r":90.7,"e":0.021},{"r":91.5,"e":0.036},{"r":92.8,"e":0.033},{"r":95.2,"e":0}]},"mark":{"type":"line","stroke":"#33e633","strokeWidth":1.5},"encoding":{"x":{"field":"r","type":"quantitative"},"y":{"field":"e","type":"quantitative"}}},
{"data":{"values":[{"r":2.6},{"r":4.6},{"r":5},{"r":8.7},{"r":10.4},{"r":11.5},{"r":13.25},{"r":14.9},{"r":15.3},{"r":15.85},{"r":16.25},{"r":16.7},{"r":17.1},{"r":17.5},{"r":17.8},{"r":19.4},{"r":21},{"r":34.7},{"r":43.6},{"r":64.75},{"r":68.2},{"r":70.2},{"r":70.9},{"r":71.6},{"r":72.3},{"r":73},{"r":73.4},{"r":73.8},{"r":74.3},{"r":74.7},{"r":75.7},{"r":77.7},{"r":78.7},{"r":79.5},{"r":80.1},{"r":81.8},{"r":82.2},{"r":82.8},{"r":89.1},{"r":90},{"r":91.8}]},"mark":{"type":"rule","stroke":"#333","strokeWidth":0.7},"encoding":{"x":{"field":"r","type":"quantitative"},"y":{"datum":-0.2174},"y2":{"datum":-0.3737}}},
{"data":{"values":[{"a":0,"b":3,"k":"r1"},{"a":3,"b":18,"k":"r2"},{"a":18,"b":20,"k":"r3"},{"a":20,"b":68.9,"k":"p"},{"a":68.9,"b":72,"k":"l1"},{"a":72,"b":79.5,"k":"l2"},{"a":79.5,"b":92,"k":"b1"},{"a":92,"b":95.2,"k":"b2"}]},"mark":{"type":"rect"},"encoding":{"x":{"field":"a","type":"quantitative"},"x2":{"field":"b"},"y":{"datum":-0.378},"y2":{"datum":-0.418},"color":{"field":"k","type":"nominal","legend":null,"scale":{"domain":["r1","r2","r3","p","l1","l2","b1","b2"],"range":["#e33333","#f55555","#f99999","#fbbfe3","#ccccf5","#c0bff0","#6f6ff0","#2000c4"]}}}},
{"mark":{"type":"rule","stroke":"#ccc","strokeWidth":1},"encoding":{"x":{"datum":0},"x2":{"datum":100},"y":{"datum":-0.21}}},
{"mark":{"type":"rect","fillOpacity":0,"stroke":"#ccc","strokeWidth":1},"encoding":{"x":{"datum":0},"x2":{"datum":100},"y":{"datum":0.274},"y2":{"datum":-0.418}}},
{"mark":{"type":"text","text":"KEGG_MTOR_SIGNALLING_PATHWAY","fontSize":11},"encoding":{"x":{"datum":0.55},"y":{"datum":0.367}}},
{"mark":{"type":"text","text":"(CTRL vs NAC)","fontSize":11},"encoding":{"x":{"datum":0.55},"y":{"datum":0.307}}},
{"mark":{"type":"text","text":"NES: 2.090"},"encoding":{"x":{"datum":70.9},"y":{"datum":0.222}}},
{"mark":{"type":"text","text":"FDR <0.01"},"encoding":{"x":{"datum":70.9},"y":{"datum":0.165}}},
{"mark":{"type":"text","text":"F","fontSize":14.5,"fontWeight":"bold","baseline":"alphabetic","color":"#000"},"encoding":{"x":{"datum":-16.4},"y":{"datum":0.478}}}
]},
{"layer":[
{"data":{"values":[{"g":1,"v":67.2},{"g":2,"v":27.9},{"g":3.684,"v":78},{"g":4.696,"v":81.1}]},"mark":{"type":"bar","orient":"vertical","size":17,"fill":"#fff","stroke":"#444","strokeWidth":1.3},"encoding":{"x":{"field":"g","type":"quantitative","scale":{"domain":[0.482,5.2],"range":[587.7,704.3],"nice":false,"zero":false},"axis":{"orient":"bottom","offset":-16.3,"values":[1.44,4.085],"labelExpr":"datum.value<2?'Unstim':'anti-CD3/28'","ticks":false,"labelPadding":6,"title":null}},"y":{"field":"v","type":"quantitative","stack":null,"scale":{"domain":[0,100],"range":[910.7,736],"nice":false},"axis":{"orient":"left","offset":-587.7,"values":[0,20,40,60,80,100],"format":"d","tickSize":5,"labelPadding":2,"title":"% pS6 Ser240/244⁺ cells","titleX":-38.4,"titleY":818}}}},
{"data":{"values":[{"g":1,"lo":57.6,"hi":72},{"g":2,"lo":17.6,"hi":38.9},{"g":3.684,"lo":71.4,"hi":85.3},{"g":4.696,"lo":77.7,"hi":85.3}]},"mark":{"type":"rule","stroke":"#333","strokeWidth":1.3},"encoding":{"x":{"field":"g","type":"quantitative"},"y":{"field":"lo","type":"quantitative"},"y2":{"field":"hi"}}},
{"data":{"values":[{"g":0.993,"v":89.1,"c":"CTRL"},{"g":0.993,"v":79.2,"c":"CTRL"},{"g":0.993,"v":73.3,"c":"CTRL"},{"g":0.993,"v":67.2,"c":"CTRL"},{"g":0.993,"v":59,"c":"CTRL"},{"g":0.993,"v":38.2,"c":"CTRL"},{"g":2.005,"v":67.9,"c":"NAC"},{"g":2.005,"v":53,"c":"NAC"},{"g":2.005,"v":22.7,"c":"NAC"},{"g":1.857,"v":13.2,"c":"NAC"},{"g":2.167,"v":10.7,"c":"NAC"},{"g":2.005,"v":2.3,"c":"NAC"},{"g":3.503,"v":88.2,"c":"CTRL"},{"g":3.69,"v":88.4,"c":"CTRL"},{"g":3.867,"v":89.9,"c":"CTRL"},{"g":3.69,"v":83.6,"c":"CTRL"},{"g":3.69,"v":75.8,"c":"CTRL"},{"g":3.69,"v":45,"c":"CTRL"},{"g":4.705,"v":96.8,"c":"NAC"},{"g":4.53,"v":83.8,"c":"NAC"},{"g":4.88,"v":83,"c":"NAC"},{"g":4.705,"v":81.3,"c":"NAC"},{"g":4.705,"v":75,"c":"NAC"},{"g":4.705,"v":69.5,"c":"NAC"}]},"mark":{"type":"point","filled":true,"size":20,"opacity":1},"encoding":{"x":{"field":"g","type":"quantitative"},"y":{"field":"v","type":"quantitative"},"color":{"field":"c","type":"nominal","legend":null,"scale":{"domain":["CTRL","NAC"],"range":["#999999","#000000"]}}}},
{"mark":{"type":"rule","stroke":"#222","strokeWidth":1.3},"encoding":{"x":{"datum":1.03},"x2":{"datum":2.02},"y":{"datum":102.9}}},
{"mark":{"type":"rule","stroke":"#222","strokeWidth":1.3},"encoding":{"x":{"datum":2},"x2":{"datum":4.72},"y":{"datum":118.1}}},
{"mark":{"type":"text","text":"* *","fontSize":18,"fontWeight":"bold","align":"center","baseline":"alphabetic"},"encoding":{"x":{"datum":1.45},"y":{"datum":101.1}}},
{"mark":{"type":"text","text":"* *","fontSize":18,"fontWeight":"bold","align":"center","baseline":"alphabetic"},"encoding":{"x":{"datum":3.25},"y":{"datum":115.9}}},
{"mark":{"type":"text","text":"G","fontSize":14.5,"fontWeight":"bold","baseline":"alphabetic","color":"#000"},"encoding":{"x":{"datum":-1.611},"y":{"datum":117}}},
{"data":{"values":[{"t":"CTRL","y":116},{"t":"NAC","y":105}]},"mark":{"type":"point","filled":true,"size":42,"opacity":1},"encoding":{"x":{"datum":5.514},"y":{"field":"y","type":"quantitative"},"color":{"field":"t","type":"nominal","legend":null}}},
{"data":{"values":[{"t":"CTRL","y":116},{"t":"NAC","y":105}]},"mark":{"type":"text"},"encoding":{"x":{"datum":5.84},"y":{"field":"y","type":"quantitative"},"text":{"field":"t"}}}
]}
]}
